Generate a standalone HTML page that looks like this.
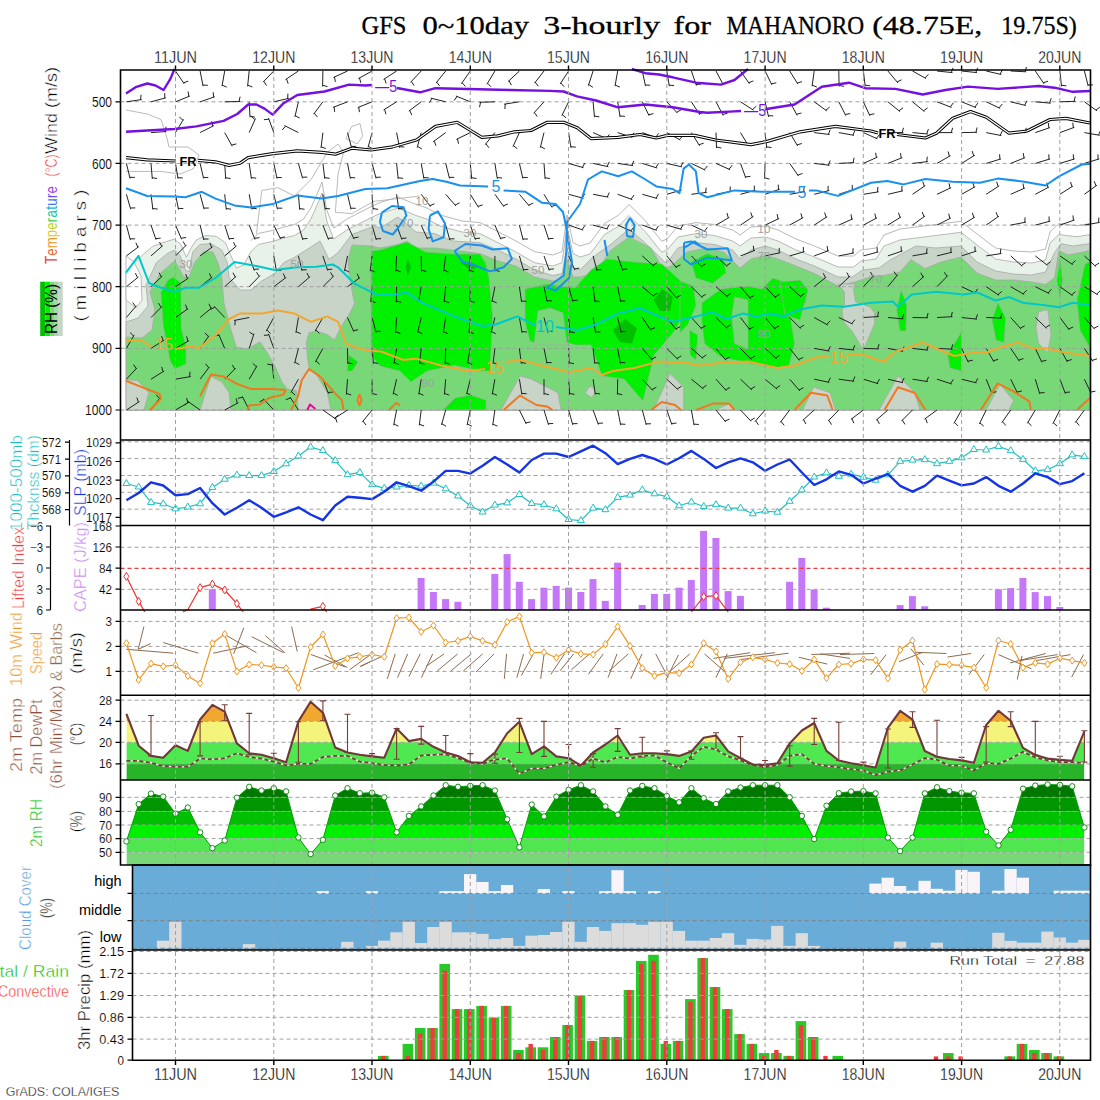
<!DOCTYPE html>
<html><head><meta charset="utf-8"><title>GFS meteogram</title>
<style>html,body{margin:0;padding:0;background:#fff;width:1100px;height:1100px;overflow:hidden}svg{display:block}</style>
</head><body>
<svg width="1100" height="1100" viewBox="0 0 1100 1100">
<rect x="0" y="0" width="1100" height="1100" fill="#fff"/>
<g>
<polygon points="126.4,410.0 126.0,272.0 134.5,263.0 143.6,254.0 152.7,246.4 165.5,241.8 174.5,239.1 180.9,244.5 186.4,257.3 190.9,248.2 196.4,240.0 205.5,235.5 216.4,236.4 225.5,242.7 230.9,255.5 236.4,268.0 243.6,265.0 250.9,251.8 258.2,244.5 270.9,241.8 283.6,238.2 294.5,235.5 303.6,230.0 310.9,219.1 318.0,203.0 322.0,193.0 326.8,221.0 333.6,239.0 347.0,230.0 374.5,216.0 380.0,213.6 398.0,208.0 416.0,215.5 427.0,219.0 440.0,226.0 462.0,232.0 480.0,233.6 498.0,242.7 516.0,252.0 534.5,262.7 552.7,266.0 562.0,262.7 567.0,226.0 573.0,253.6 580.0,257.0 590.0,254.0 604.5,234.5 618.2,226.4 629.1,215.5 645.4,231.8 661.8,252.3 667.0,250.0 678.0,237.0 696.0,233.6 714.5,235.5 732.7,241.0 740.0,246.0 751.0,238.0 765.5,237.0 778.0,241.0 796.0,250.0 814.5,257.0 838.0,267.0 853.6,267.0 861.0,261.0 876.0,259.0 884.0,246.0 900.0,240.0 916.0,238.0 961.0,232.3 977.0,245.0 995.5,259.0 1013.6,262.0 1031.8,263.0 1045.5,260.0 1050.0,243.0 1059.0,234.5 1077.0,236.8 1090.0,234.5 1090.0,410.0" fill="#e8f2e8" stroke="#a8a8a8" stroke-width="0.8" />
<polygon points="126.0,256.0 134.0,262.0 141.0,276.0 142.0,300.0 136.0,308.0 126.0,300.0" fill="#fff" stroke="#a8a8a8" stroke-width="0.8" />
<polygon points="126.4,410.0 126.0,322.0 138.0,318.0 148.0,306.0 146.0,285.0 156.4,262.7 167.3,253.6 174.5,250.0 180.0,255.5 185.5,270.0 189.0,271.8 192.7,251.8 200.0,244.5 210.9,243.6 221.8,250.0 227.3,262.7 229.0,277.3 240.0,290.0 250.9,290.0 261.8,280.9 274.5,273.6 283.6,262.7 294.5,257.3 309.0,248.2 320.0,241.0 329.0,259.5 338.0,252.7 351.8,234.5 374.5,226.0 380.0,228.0 398.0,217.0 416.0,232.0 434.5,233.6 452.7,241.0 480.0,242.7 498.0,250.0 516.0,259.0 534.5,270.0 552.7,275.5 562.0,273.6 567.0,248.0 573.0,268.0 580.0,270.0 592.7,257.3 610.0,245.0 629.0,229.0 645.0,242.7 664.5,261.8 667.0,262.7 678.0,248.0 696.0,242.7 714.5,244.5 732.7,250.0 740.0,259.0 751.0,250.0 765.5,246.0 778.0,250.0 796.0,259.0 814.5,266.0 838.0,277.0 852.0,277.0 862.7,270.0 879.0,268.0 890.0,260.0 916.0,246.0 936.0,248.0 961.0,246.0 977.0,262.0 995.5,271.0 1013.6,274.0 1031.8,275.0 1045.5,272.0 1054.5,252.7 1061.0,243.6 1072.7,246.0 1090.0,243.6 1090.0,410.0" fill="#c8d4c8" stroke="#a8a8a8" stroke-width="0.8" />
<polygon points="126.4,410.0 126.0,337.0 142.0,338.0 152.0,330.0 155.0,310.0 150.0,292.0 160.0,273.6 174.5,261.0 178.0,266.0 183.6,277.0 189.0,277.0 194.5,262.7 203.6,251.8 212.7,251.8 218.0,262.7 221.8,277.3 224.0,303.6 231.0,330.0 236.4,347.3 247.3,349.1 260.0,341.8 267.3,352.7 274.5,365.5 281.8,381.8 287.3,389.1 296.4,390.9 298.2,410.0 330.9,410.0 327.3,392.7 316.4,374.5 309.1,369.1 307.3,356.4 306.4,341.8 309.1,332.7 316.4,330.9 327.3,334.5 334.5,340.0 341.8,325.5 349.1,314.5 354.5,303.6 350.0,280.0 348.0,260.0 352.0,245.0 371.0,246.0 380.0,248.0 398.0,244.5 407.0,241.0 416.0,248.0 434.5,248.0 452.7,250.0 480.0,253.6 498.0,261.0 516.0,266.0 534.5,277.0 552.7,281.0 562.0,279.0 567.0,259.0 573.0,277.0 580.0,277.0 596.0,272.7 610.0,251.0 629.0,237.0 651.0,248.0 661.8,267.0 660.0,272.0 671.0,266.0 687.0,252.0 705.5,248.0 723.6,252.0 740.0,268.0 751.0,259.0 765.5,255.5 778.0,259.0 796.0,266.0 814.5,273.6 838.0,286.0 854.5,282.0 870.0,277.0 884.0,275.5 900.0,272.0 911.0,259.5 925.0,268.6 941.0,262.0 961.0,257.0 977.0,273.0 995.5,280.0 1013.6,280.0 1031.8,282.0 1045.5,284.5 1054.5,277.7 1059.0,250.5 1068.0,255.0 1090.0,250.5 1090.0,410.0" fill="#78d878" stroke="#a8a8a8" stroke-width="0.8" />
<polygon points="126.0,379.6 138.0,380.8 148.8,392.8 144.0,410.0 126.0,410.0" fill="#c8d4c8" stroke="#a8a8a8" stroke-width="0.8" />
<polygon points="200.0,410.0 205.5,392.7 210.9,376.4 221.8,381.8 229.1,392.7 230.9,410.0" fill="#c8d4c8" stroke="#a8a8a8" stroke-width="0.8" />
<polygon points="501.0,410.0 520.0,376.0 531.0,379.0 558.0,392.7 561.0,410.0" fill="#c8d4c8" stroke="#a8a8a8" stroke-width="0.8" />
<polygon points="585.0,393.0 590.0,386.0 596.0,390.0 592.0,398.0" fill="#c8d4c8" stroke="#a8a8a8" stroke-width="0.8" />
<polygon points="653.6,410.0 670.0,373.6 683.6,387.0 683.6,410.0" fill="#c8d4c8" stroke="#a8a8a8" stroke-width="0.8" />
<polygon points="838.0,284.0 854.5,284.0 853.6,290.0 855.5,302.0 862.7,304.5 870.0,307.0 874.5,312.7 874.5,323.6 865.5,345.5 862.0,348.0 852.0,331.0 843.6,322.0 842.0,311.0 844.5,303.6 844.5,292.0" fill="#c8d4c8" stroke="#a8a8a8" stroke-width="0.8" />
<polygon points="802.7,410.0 813.6,387.0 830.0,392.7 835.5,410.0" fill="#c8d4c8" stroke="#a8a8a8" stroke-width="0.8" />
<polygon points="879.0,410.0 898.0,376.0 914.5,392.0 920.0,410.0" fill="#c8d4c8" stroke="#a8a8a8" stroke-width="0.8" />
<polygon points="715.5,410.0 729.0,403.6 734.5,410.0" fill="#c8d4c8" stroke="#a8a8a8" stroke-width="0.8" />
<polygon points="1038.6,311.8 1047.7,309.5 1051.0,334.5 1047.7,352.7 1038.6,343.6 1036.0,327.7" fill="#c8d4c8" stroke="#a8a8a8" stroke-width="0.8" />
<polygon points="986.0,410.0 1000.0,384.5 1013.6,400.5 1009.0,410.0" fill="#c8d4c8" stroke="#a8a8a8" stroke-width="0.8" />
<polygon points="162.0,290.0 168.0,280.0 173.0,277.0 181.0,283.0 181.2,328.0 186.0,347.0 186.0,364.0 175.2,368.8 170.4,361.6 163.2,325.6 160.8,292.0" fill="#00f000" stroke="#a8a8a8" stroke-width="0.6" />
<polygon points="347.0,371.0 349.0,355.0 358.0,362.0 352.0,371.0" fill="#00f000" stroke="#a8a8a8" stroke-width="0.6" />
<polygon points="371.0,251.0 380.0,250.0 407.0,242.0 425.5,252.0 452.7,254.0 480.0,254.0 485.5,263.0 489.0,277.0 491.0,300.0 492.7,316.0 490.0,371.0 481.8,371.0 454.5,365.5 427.0,371.0 411.0,382.0 400.0,371.0 380.0,366.0 371.0,355.0" fill="#00f000" stroke="#a8a8a8" stroke-width="0.6" />
<polygon points="525.0,289.0 547.0,284.0 575.0,288.0 591.0,270.0 607.0,259.0 634.0,262.0 662.0,264.0 684.0,284.0 686.0,311.0 673.0,333.0 654.0,355.0 643.0,401.0 624.0,379.0 602.0,376.0 591.0,345.0 575.0,345.0 560.0,340.0 540.0,345.0 530.0,341.0 525.0,322.0" fill="#00f000" stroke="#a8a8a8" stroke-width="0.6" />
<polygon points="691.0,262.0 707.0,253.6 723.6,259.0 726.0,272.7 712.7,283.6 696.0,278.0" fill="#00f000" stroke="#a8a8a8" stroke-width="0.6" />
<polygon points="701.8,302.7 721.0,289.0 748.0,286.0 761.8,289.0 772.7,278.0 789.0,283.6 808.0,289.0 805.5,302.7 789.0,308.0 794.5,343.6 789.0,365.5 775.5,368.0 748.0,362.7 721.0,357.0 704.5,343.6 701.8,321.8" fill="#00f000" stroke="#a8a8a8" stroke-width="0.6" />
<polygon points="680.0,281.0 693.6,286.0 696.0,305.5 688.0,324.5 680.0,332.7" fill="#00f000" stroke="#a8a8a8" stroke-width="0.6" />
<polygon points="689.5,330.0 697.7,335.0 696.0,360.0 690.0,355.0" fill="#00f000" stroke="#a8a8a8" stroke-width="0.6" />
<polygon points="896.6,310.0 901.0,290.0 906.8,305.0 906.0,331.0 900.0,331.0" fill="#00f000" stroke="#a8a8a8" stroke-width="0.6" />
<polygon points="992.0,320.0 998.0,302.7 1005.7,318.0 1004.0,342.5 996.0,340.0" fill="#00f000" stroke="#a8a8a8" stroke-width="0.6" />
<polygon points="947.7,355.0 961.4,332.0 961.4,371.0 950.0,368.0" fill="#00f000" stroke="#a8a8a8" stroke-width="0.6" />
<polygon points="1056.8,280.0 1060.0,259.5 1062.5,280.0 1060.0,298.0" fill="#00f000" stroke="#a8a8a8" stroke-width="0.6" />
<polygon points="1077.0,300.0 1085.0,264.0 1090.0,262.0 1090.0,348.0 1080.0,330.0" fill="#00f000" stroke="#a8a8a8" stroke-width="0.6" />
<polygon points="780.0,282.0 800.0,280.0 808.0,290.0 800.0,320.0 785.0,315.0" fill="#00f000" stroke="#a8a8a8" stroke-width="0.6" />
<polygon points="534.0,345.0 538.0,311.0 550.0,308.0 563.0,313.0 567.0,345.0" fill="#78d878" stroke="#a8a8a8" stroke-width="0.6" />
<polygon points="734.5,297.0 748.0,300.0 748.0,349.0 734.5,343.6 731.8,316.0" fill="#78d878" stroke="#a8a8a8" stroke-width="0.6" />
<polygon points="443.0,410.0 455.0,398.0 470.0,395.0 486.0,400.0 486.0,410.0" fill="#00f000" stroke="#a8a8a8" stroke-width="0.6" />
<polygon points="653.6,300.0 662.0,289.0 672.7,297.0 670.0,311.0 660.0,311.0" fill="#00c000" stroke="none" stroke-width="0" />
<polygon points="612.7,330.0 625.0,319.0 637.0,328.0 632.0,343.6 620.0,342.0" fill="#00c000" stroke="none" stroke-width="0" />
<polygon points="460.0,262.0 470.0,262.0 479.0,266.0 470.0,270.0" fill="#00c000" stroke="none" stroke-width="0" />
<polygon points="405.5,267.0 408.0,259.0 411.0,267.0 408.0,275.5" fill="#00c000" stroke="none" stroke-width="0" />
<polyline points="126.0,110.0 147.3,114.0 161.0,119.5 166.4,136.0 169.0,147.0 188.0,147.0 199.0,155.0 193.6,168.6 180.0,174.0 161.0,171.4 126.0,171.4" fill="none" stroke="#a8a8a8" stroke-width="0.8" stroke-linejoin="round" />
<polyline points="346.0,138.6 351.8,126.4 360.0,123.6 362.7,136.0 357.3,144.0 346.0,138.6" fill="none" stroke="#a8a8a8" stroke-width="0.8" stroke-linejoin="round" />
<polyline points="256.4,234.0 261.8,190.4 278.0,187.7 294.5,196.0 311.0,179.5 327.3,152.3 338.0,144.0 343.6,152.3 338.0,174.0 335.4,212.3 351.8,213.6 373.6,201.4 420.0,196.0" fill="none" stroke="#a8a8a8" stroke-width="0.8" stroke-linejoin="round" />
<polyline points="250.9,240.8 258.2,233.5 270.9,230.8 283.6,227.2 294.5,224.5 303.6,219.0 310.9,208.1 318.0,192.0 322.0,182.0 326.8,210.0 333.6,228.0 347.0,219.0 374.5,205.0 380.0,202.6 398.0,197.0 416.0,204.5 427.0,208.0 440.0,215.0 462.0,221.0 480.0,222.6 498.0,231.7 516.0,241.0 534.5,251.7 552.7,255.0 562.0,251.7 567.0,215.0 573.0,242.6 580.0,246.0 590.0,243.0 604.5,223.5 618.2,215.4 629.1,204.5 645.4,220.8 661.8,241.3 667.0,239.0 678.0,226.0 696.0,222.6 714.5,224.5 732.7,230.0 740.0,235.0 751.0,227.0 765.5,226.0 778.0,230.0 796.0,239.0 814.5,246.0 838.0,256.0 853.6,256.0 861.0,250.0 876.0,248.0 884.0,235.0 900.0,229.0 916.0,227.0 961.0,221.3 977.0,234.0 995.5,248.0 1013.6,251.0 1031.8,252.0 1045.5,249.0 1050.0,232.0 1059.0,223.5 1077.0,225.8 1090.0,223.5" fill="none" stroke="#b0b0b0" stroke-width="0.9" stroke-linejoin="round" />
</g>
<line x1="120.5" y1="101.8" x2="1090.5" y2="101.8" stroke="#a0a0a0" stroke-width="1" stroke-dasharray="4,3"/>
<line x1="120.5" y1="163.4" x2="1090.5" y2="163.4" stroke="#a0a0a0" stroke-width="1" stroke-dasharray="4,3"/>
<line x1="120.5" y1="225.1" x2="1090.5" y2="225.1" stroke="#a0a0a0" stroke-width="1" stroke-dasharray="4,3"/>
<line x1="120.5" y1="286.7" x2="1090.5" y2="286.7" stroke="#a0a0a0" stroke-width="1" stroke-dasharray="4,3"/>
<line x1="120.5" y1="348.4" x2="1090.5" y2="348.4" stroke="#a0a0a0" stroke-width="1" stroke-dasharray="4,3"/>
<line x1="120.5" y1="410.0" x2="1090.5" y2="410.0" stroke="#a0a0a0" stroke-width="1" stroke-dasharray="4,3"/>
<path d="M175.5 71.0L184.2 83.8M183.5 82.8L188.2 81.2 M200.1 71.0L203.1 86.2M202.8 85.0L207.8 85.3 M224.7 71.0L222.0 86.2M222.2 85.1L226.7 87.1 M249.2 71.0L247.6 86.4M247.7 85.2L252.4 87.0 M273.8 71.0L263.0 82.1M263.9 81.3L266.5 85.5 M298.4 71.0L285.5 79.6M286.5 79.0L288.2 83.7 M322.9 71.0L322.6 86.5M322.7 85.3L327.5 86.6 M347.5 71.0L333.4 77.5M334.5 77.0L335.4 81.9 M372.1 71.0L358.5 78.5M359.5 77.9L360.8 82.8 M396.6 71.0L383.6 79.4M384.6 78.8L386.2 83.5 M421.2 71.0L410.6 82.3M411.4 81.4L414.1 85.7 M445.7 71.0L436.0 83.0M436.7 82.1L439.7 86.1 M470.3 71.0L461.4 83.7M462.1 82.7L465.4 86.5 M494.9 71.0L486.9 84.3M487.5 83.2L491.0 86.8 M519.4 71.0L508.1 81.6M509.0 80.7L511.4 85.1 M544.0 71.0L534.5 83.2M535.2 82.2L538.3 86.2 M568.6 71.0L560.1 84.0M560.8 83.0L564.2 86.7 M593.1 71.0L588.3 85.7M588.7 84.6L592.9 87.3 M617.7 71.0L615.0 86.2M615.2 85.1L619.8 87.1 M642.3 71.0L645.5 86.1M645.2 85.0L650.2 85.2 M666.8 71.0L669.3 86.3M669.1 85.1L674.1 85.6 M691.4 71.0L696.4 85.6M696.1 84.5L701.0 84.1 M716.0 71.0L723.2 84.7M722.7 83.6L727.5 82.4 M740.5 71.0L749.4 83.7M748.7 82.7L753.4 80.9 M765.1 71.0L771.9 84.9M771.4 83.8L776.3 82.8 M789.7 71.0L797.9 84.1M797.2 83.1L802.0 81.6 M814.2 71.0L812.1 86.3M812.2 85.1L816.9 87.1 M838.8 71.0L839.1 86.5M839.0 85.3L843.9 86.4 M863.4 71.0L865.2 86.4M865.1 85.2L870.1 85.8 M887.9 71.0L897.9 82.9M897.1 81.9L901.6 79.8 M912.5 71.0L926.0 78.5M925.0 77.9L928.4 74.3 M937.0 71.0L952.5 72.6M951.3 72.5L953.0 67.8 M961.6 71.0L977.0 72.6M975.8 72.5L977.6 67.8 M986.2 71.0L1001.3 74.5M1000.1 74.2L1002.4 69.8 M1010.7 71.0L1026.2 71.8M1025.0 71.7L1026.5 67.0 M1035.3 71.0L1044.0 83.8M1043.3 82.8L1048.0 81.2 M1059.9 71.0L1061.5 86.4M1061.4 85.2L1066.3 85.9 M1084.4 71.0L1088.2 86.0M1087.9 84.9L1092.9 84.9 M126.4 101.8L141.7 99.6M140.6 99.8L141.1 94.8 M151.0 101.8L165.9 97.8M164.8 98.1L164.7 93.1 M175.5 101.8L189.9 96.0M188.8 96.4L188.1 91.5 M200.1 101.8L214.8 96.8M213.6 97.1L213.2 92.2 M224.7 101.8L240.2 101.5M239.0 101.6L240.1 96.7 M249.2 101.8L250.0 117.3M250.0 116.1L254.9 117.1 M273.8 101.8L288.9 98.3M287.7 98.6L287.9 93.6 M298.4 101.8L294.9 116.9M295.1 115.7L299.6 118.0 M322.9 101.8L313.6 114.2M314.3 113.2L317.4 117.1 M347.5 101.8L333.0 107.4M334.1 106.9L334.7 111.9 M372.1 101.8L357.7 107.6M358.8 107.2L359.4 112.1 M396.6 101.8L383.5 110.0M384.5 109.4L386.0 114.2 M421.2 101.8L408.8 111.1M409.8 110.4L411.7 115.0 M445.7 101.8L430.7 98.1M431.9 98.3L429.5 102.7 M470.3 101.8L455.9 96.0M457.1 96.4L454.1 100.5 M494.9 101.8L479.4 102.3M480.6 102.3L479.5 107.2 M519.4 101.8L504.1 104.2M505.3 104.0L504.8 109.0 M544.0 101.8L533.6 113.3M534.4 112.4L537.2 116.6 M568.6 101.8L561.8 115.7M562.3 114.7L566.1 117.9 M593.1 101.8L594.5 117.2M594.4 116.0L599.3 116.9 M617.7 101.8L620.1 117.1M619.9 115.9L624.9 116.4 M642.3 101.8L649.1 115.7M648.5 114.7L653.4 113.7 M666.8 101.8L677.4 113.1M676.6 112.3L681.0 109.9 M691.4 101.8L699.8 114.8M699.2 113.8L703.9 112.2 M716.0 101.8L723.2 115.5M722.7 114.4L727.5 113.3 M740.5 101.8L753.5 110.2M752.5 109.6L756.2 106.2 M765.1 101.8L768.6 116.9M768.3 115.7L773.3 115.9 M789.7 101.8L797.2 115.4M796.6 114.3L801.4 113.0 M814.2 101.8L826.8 110.9M825.8 110.2L829.7 107.0 M838.8 101.8L845.8 115.6M845.3 114.5L850.2 113.5 M863.4 101.8L869.9 115.8M869.4 114.8L874.3 113.8 M887.9 101.8L900.0 111.6M899.0 110.8L903.1 107.8 M912.5 101.8L924.5 111.6M923.6 110.8L927.6 107.8 M937.0 101.8L951.5 107.4M950.4 106.9L953.3 102.8 M961.6 101.8L976.0 107.6M974.9 107.2L977.8 103.1 M986.2 101.8L1000.2 108.4M999.1 107.8L1002.3 104.0 M1010.7 101.8L1025.8 105.5M1024.6 105.3L1027.0 100.9 M1035.3 101.8L1050.7 103.2M1049.6 103.0L1051.2 98.3 M1059.9 101.8L1075.4 101.3M1074.2 101.3L1075.2 96.4 M1084.4 101.8L1097.0 110.9M1096.0 110.2L1099.9 107.0 M151.0 132.6L166.4 131.5M165.2 131.6L166.1 126.7 M175.5 132.6L183.5 119.3M182.9 120.4L179.4 116.8 M200.1 132.6L213.9 125.6M212.8 126.1L211.7 121.2 M224.7 132.6L232.2 146.2M231.6 145.1L236.4 143.9 M249.2 132.6L255.5 118.5M255.0 119.6L251.1 116.4 M273.8 132.6L268.5 118.1M268.9 119.2L263.9 119.7 M298.4 132.6L284.5 125.6M285.6 126.1L282.3 129.9 M322.9 132.6L321.0 148.0M321.2 146.8L325.8 148.6 M347.5 132.6L351.5 147.6M351.2 146.4L356.2 146.4 M372.1 132.6L368.0 147.6M368.3 146.4L372.7 148.9 M396.6 132.6L399.6 147.8M399.3 146.7L404.3 147.0 M421.2 132.6L417.2 147.6M417.5 146.4L421.8 148.9 M445.7 132.6L433.2 141.7M434.2 141.0L436.0 145.7 M470.3 132.6L456.4 139.4M457.5 138.9L458.5 143.8 M494.9 132.6L485.1 144.7M485.9 143.7L488.9 147.8 M519.4 132.6L512.9 146.7M513.4 145.6L517.3 148.8 M544.0 132.6L540.3 147.7M540.5 146.5L544.9 148.9 M568.6 132.6L571.0 147.9M570.8 146.7L575.8 147.2 M593.1 132.6L607.3 138.9M606.2 138.4L609.3 134.5 M617.7 132.6L632.4 137.4M631.3 137.0L634.0 132.8 M642.3 132.6L656.8 137.9M655.7 137.5L658.5 133.4 M666.8 132.6L680.4 140.1M679.3 139.6L682.8 135.9 M691.4 132.6L699.6 145.8M699.0 144.7L703.7 143.2 M716.0 132.6L716.5 148.1M716.5 146.9L721.3 148.0 M740.5 132.6L748.5 145.9M747.9 144.9L752.7 143.5 M765.1 132.6L766.7 148.0M766.6 146.8L771.5 147.6 M789.7 132.6L797.6 145.9M797.0 144.9L801.8 143.5 M814.2 132.6L829.6 134.5M828.4 134.4L830.2 129.7 M838.8 132.6L854.0 135.3M852.9 135.1L854.9 130.5 M863.4 132.6L877.5 138.9M876.4 138.4L879.5 134.5 M887.9 132.6L903.4 132.6M902.2 132.6L903.5 127.8 M912.5 132.6L927.9 134.0M926.7 133.9L928.4 129.1 M937.0 132.6L952.5 132.6M951.3 132.6L952.6 127.8 M961.6 132.6L977.1 132.3M975.9 132.4L977.1 127.5 M986.2 132.6L1001.4 135.6M1000.2 135.3L1002.4 130.8 M1010.7 132.6L1026.2 132.6M1025.0 132.6L1026.3 127.8 M1035.3 132.6L1050.0 127.6M1048.8 128.0L1048.4 123.0 M1059.9 132.6L1074.4 127.3M1073.3 127.7L1072.8 122.7 M1084.4 132.6L1099.7 135.3M1098.5 135.1L1100.6 130.5 M126.4 163.4L130.1 178.5M129.9 177.3L134.9 177.4 M151.0 163.4L152.3 178.9M152.2 177.7L157.2 178.5 M175.5 163.4L178.0 178.7M177.8 177.6L182.8 178.0 M200.1 163.4L203.6 178.5M203.3 177.4L208.3 177.5 M224.7 163.4L225.7 178.9M225.7 177.7L230.6 178.6 M249.2 163.4L251.4 178.8M251.2 177.6L256.2 178.2 M273.8 163.4L277.0 178.6M276.8 177.4L281.8 177.6 M298.4 163.4L302.6 178.3M302.3 177.2L307.3 177.1 M322.9 163.4L324.8 178.8M324.7 177.6L329.6 178.3 M347.5 163.4L350.4 178.7M350.2 177.5L355.2 177.8 M372.1 163.4L376.1 178.4M375.8 177.3L380.8 177.2 M396.6 163.4L398.2 178.9M398.1 177.7L403.1 178.4 M421.2 163.4L423.9 178.7M423.7 177.5L428.7 177.9 M445.7 163.4L449.5 178.5M449.2 177.3L454.2 177.4 M470.3 163.4L471.7 178.9M471.6 177.7L476.5 178.5 M494.9 163.4L497.3 178.7M497.1 177.6L502.1 178.0 M519.4 163.4L522.9 178.5M522.7 177.4L527.7 177.5 M544.0 163.4L545.1 178.9M545.0 177.7L549.9 178.6 M568.6 163.4L583.5 167.7M582.3 167.4L584.9 163.1 M593.1 163.4L608.3 166.7M607.1 166.4L609.4 161.9 M617.7 163.4L633.0 165.6M631.9 165.4L633.8 160.8 M642.3 163.4L657.1 168.0M655.9 167.6L658.6 163.3 M666.8 163.4L681.9 166.9M680.8 166.7L683.1 162.2 M691.4 163.4L705.3 170.2M704.2 169.7L707.5 165.9 M716.0 163.4L730.1 169.7M729.0 169.3L732.1 165.3 M740.5 163.4L745.8 178.0M745.4 176.9L750.4 176.4 M765.1 163.4L764.5 178.9M764.6 177.7L769.4 179.1 M789.7 163.4L798.5 176.1M797.9 175.2L802.5 173.4 M814.2 163.4L829.6 165.3M828.4 165.2L830.2 160.5 M838.8 163.4L854.3 162.6M853.1 162.7L854.1 157.8 M863.4 163.4L877.5 157.1M876.4 157.6L875.6 152.7 M887.9 163.4L902.3 157.6M901.2 158.1L900.5 153.1 M912.5 163.4L927.9 161.6M926.7 161.7L927.3 156.7 M937.0 163.4L950.5 155.7M949.4 156.3L948.1 151.5 M961.6 163.4L974.8 155.2M973.7 155.9L972.2 151.1 M986.2 163.4L1001.0 158.9M999.9 159.3L999.6 154.3 M1010.7 163.4L1025.1 157.6M1024.0 158.1L1023.3 153.1 M1035.3 163.4L1050.1 158.9M1049.0 159.3L1048.8 154.3 M1059.9 163.4L1074.7 158.9M1073.5 159.3L1073.3 154.3 M1084.4 163.4L1099.3 158.9M1098.1 159.3L1097.9 154.3 M126.4 194.3L130.7 209.2M130.3 208.0L135.3 207.9 M151.0 194.3L152.9 209.6M152.7 208.5L157.7 209.1 M175.5 194.3L178.5 209.5M178.3 208.3L183.3 208.6 M200.1 194.3L204.1 209.2M203.8 208.1L208.8 208.0 M224.7 194.3L226.3 209.7M226.2 208.5L231.1 209.2 M249.2 194.3L251.9 209.5M251.7 208.3L256.7 208.7 M273.8 194.3L277.5 209.3M277.2 208.1L282.3 208.2 M298.4 194.3L299.7 209.7M299.6 208.5L304.5 209.3 M322.9 194.3L325.3 209.6M325.2 208.4L330.1 208.9 M347.5 194.3L351.0 209.4M350.7 208.2L355.7 208.3 M372.1 194.3L373.1 209.7M373.0 208.5L378.0 209.4 M396.6 194.3L398.8 209.6M398.6 208.4L403.6 209.0 M421.2 194.3L430.5 206.6M429.8 205.7L434.4 203.8 M445.7 194.3L455.9 206.0M455.1 205.1L459.6 202.8 M470.3 194.3L478.5 207.4M477.9 206.4L482.7 204.9 M494.9 194.3L504.0 206.8M503.3 205.8L507.9 204.0 M519.4 194.3L529.4 206.1M528.6 205.2L533.2 203.1 M544.0 194.3L552.0 207.5M551.4 206.5L556.2 205.1 M568.6 194.3L583.5 198.3M582.4 198.0L584.8 193.6 M593.1 194.3L608.4 197.2M607.2 197.0L609.3 192.5 M617.7 194.3L632.3 199.6M631.1 199.2L634.0 195.0 M642.3 194.3L657.2 198.5M656.0 198.2L658.5 193.9 M666.8 194.3L681.7 190.0M680.6 190.3L680.4 185.3 M691.4 194.3L706.8 192.4M705.6 192.5L706.2 187.6 M716.0 194.3L731.2 191.3M730.0 191.5L730.3 186.5 M740.5 194.3L755.5 190.2M754.3 190.6L754.3 185.6 M765.1 194.3L779.7 189.2M778.6 189.6L778.2 184.6 M789.7 194.3L804.9 191.6M803.7 191.8L804.1 186.8 M814.2 194.3L829.3 190.5M828.1 190.8L828.1 185.8 M838.8 194.3L853.5 189.5M852.4 189.8L852.1 184.8 M863.4 194.3L878.7 191.8M877.5 192.0L877.9 187.0 M887.9 194.3L903.0 190.8M901.8 191.0L902.0 186.0 M912.5 194.3L925.3 185.6M924.3 186.3L922.7 181.5 M937.0 194.3L951.1 187.7M950.0 188.2L949.1 183.3 M961.6 194.3L975.2 186.7M974.1 187.3L972.9 182.5 M986.2 194.3L999.2 185.8M998.2 186.5L996.6 181.7 M1010.7 194.3L1024.9 188.0M1023.8 188.4L1023.0 183.5 M1035.3 194.3L1049.0 187.0M1047.9 187.5L1046.8 182.7 M1059.9 194.3L1073.0 186.0M1072.0 186.7L1070.5 181.9 M1084.4 194.3L1097.0 185.1M1096.0 185.9L1094.2 181.2 M126.4 225.1L130.4 240.1M130.1 238.9L135.1 238.8 M151.0 225.1L156.0 239.7M155.6 238.6L160.6 238.2 M175.5 225.1L181.6 239.3M181.1 238.2L186.1 237.5 M200.1 225.1L203.8 240.1M203.6 239.0L208.6 239.0 M224.7 225.1L229.4 239.8M229.1 238.7L234.1 238.4 M249.2 225.1L255.0 239.5M254.6 238.3L259.5 237.7 M273.8 225.1L280.6 239.0M280.1 237.9L285.0 236.9 M298.4 225.1L302.9 239.9M302.5 238.8L307.5 238.5 M322.9 225.1L328.5 239.6M328.0 238.4L333.0 237.9 M347.5 225.1L354.0 239.1M353.5 238.0L358.5 237.1 M372.1 225.1L376.3 240.0M376.0 238.8L381.0 238.7 M396.6 225.1L401.9 239.6M401.5 238.5L406.5 238.0 M421.2 225.1L427.5 239.2M427.0 238.1L431.9 237.3 M445.7 225.1L449.8 240.1M449.4 238.9L454.5 238.8 M470.3 225.1L475.4 239.7M475.0 238.6L480.0 238.2 M494.9 225.1L500.9 239.3M500.5 238.2L505.4 237.5 M519.4 225.1L523.2 240.1M522.9 239.0L527.9 239.0 M544.0 225.1L548.8 239.8M548.4 238.7L553.4 238.4 M568.6 225.1L583.2 230.1M582.1 229.7L584.9 225.6 M593.1 225.1L608.1 229.1M606.9 228.8L609.4 224.4 M617.7 225.1L631.9 231.4M630.8 230.9L633.9 227.0 M642.3 225.1L656.8 230.4M655.7 230.0L658.5 225.8 M666.8 225.1L681.7 229.4M680.6 229.0L683.1 224.7 M691.4 225.1L705.4 231.6M704.4 231.1L707.5 227.3 M716.0 225.1L729.4 217.3M728.3 217.9L727.0 213.1 M740.5 225.1L753.4 216.4M752.4 217.1L750.7 212.4 M765.1 225.1L779.1 218.5M778.1 219.0L777.1 214.1 M789.7 225.1L803.2 217.6M802.2 218.1L800.9 213.3 M814.2 225.1L827.2 216.6M826.2 217.3L824.6 212.5 M838.8 225.1L852.9 218.8M851.8 219.3L851.0 214.3 M863.4 225.1L877.0 217.8M876.0 218.4L874.8 213.5 M887.9 225.1L901.1 216.9M900.0 217.5L898.5 212.7 M912.5 225.1L925.0 216.0M924.0 216.7L922.2 212.0 M937.0 225.1L950.9 218.0M949.8 218.6L948.7 213.7 M961.6 225.1L974.9 217.1M973.9 217.7L972.4 212.9 M986.2 225.1L998.9 216.2M997.9 216.9L996.1 212.2 M1010.7 225.1L1026.0 222.1M1024.8 222.4L1025.1 217.4 M1035.3 225.1L1050.3 221.1M1049.1 221.4L1049.1 216.4 M1059.9 225.1L1074.5 220.0M1073.4 220.4L1073.0 215.4 M1084.4 225.1L1099.7 222.4M1098.5 222.6L1098.9 217.6 M126.4 255.9L138.8 246.6M137.8 247.3L135.9 242.7 M151.0 255.9L162.7 245.7M161.8 246.5L159.5 242.0 M175.5 255.9L186.5 244.9M185.6 245.8L183.1 241.5 M200.1 255.9L212.6 246.8M211.7 247.5L209.8 242.8 M224.7 255.9L236.5 245.9M235.6 246.7L233.5 242.2 M249.2 255.9L254.3 270.6M253.9 269.4L258.9 269.0 M273.8 255.9L276.5 271.2M276.3 270.0L281.3 270.4 M298.4 255.9L302.1 270.9M301.8 269.8L306.8 269.8 M322.9 255.9L327.7 270.6M327.3 269.5L332.3 269.2 M347.5 255.9L344.5 271.1M344.8 269.9L349.3 272.1 M372.1 255.9L370.2 271.3M370.3 270.1L375.0 271.9 M396.6 255.9L395.8 271.4M395.9 270.2L400.6 271.7 M421.2 255.9L421.5 271.4M421.4 270.2L426.3 271.4 M445.7 255.9L443.6 271.2M443.8 270.1L448.4 272.0 M470.3 255.9L469.2 271.4M469.3 270.2L474.1 271.8 M494.9 255.9L494.9 271.4M494.9 270.2L499.7 271.4 M519.4 255.9L523.7 270.8M523.4 269.6L528.4 269.5 M544.0 255.9L549.3 270.5M548.9 269.3L553.9 268.9 M568.6 255.9L574.9 270.1M574.4 269.0L579.3 268.1 M593.1 255.9L597.1 270.9M596.8 269.7L601.8 269.7 M617.7 255.9L622.7 270.6M622.4 269.4L627.3 269.0 M642.3 255.9L653.8 266.3M652.9 265.5L657.1 262.7 M666.8 255.9L676.6 267.9M675.8 267.0L680.4 264.9 M691.4 255.9L702.0 267.2M701.1 266.4L705.5 264.0 M716.0 255.9L727.3 266.5M726.4 265.7L730.6 263.0 M740.5 255.9L755.0 250.3M753.9 250.8L753.3 245.8 M765.1 255.9L780.3 252.7M779.1 252.9L779.3 247.9 M789.7 255.9L804.6 251.6M803.4 252.0L803.3 247.0 M814.2 255.9L828.8 250.6M827.7 251.0L827.2 246.0 M838.8 255.9L854.0 252.9M852.8 253.2L853.1 248.2 M863.4 255.9L878.3 251.9M877.2 252.2L877.1 247.2 M887.9 255.9L902.6 250.9M901.4 251.2L901.0 246.3 M912.5 255.9L927.7 253.2M926.6 253.4L927.0 248.4 M937.0 255.9L952.1 252.2M950.9 252.4L951.0 247.4 M961.6 255.9L976.4 251.1M975.2 251.5L974.9 246.5 M986.2 255.9L1001.5 253.5M1000.3 253.7L1000.8 248.7 M1010.7 255.9L1022.3 266.3M1021.4 265.5L1025.5 262.7 M1035.3 255.9L1047.5 265.4M1046.6 264.7L1050.5 261.7 M1059.9 255.9L1072.7 264.6M1071.7 263.9L1075.5 260.6 M1084.4 255.9L1095.8 266.5M1094.9 265.7L1099.1 263.0 M126.4 286.7L138.4 277.0M137.5 277.7L135.4 273.2 M151.0 286.7L162.3 276.1M161.4 277.0L159.0 272.6 M175.5 286.7L188.4 278.1M187.4 278.7L185.7 274.0 M200.1 286.7L212.3 277.2M211.4 277.9L209.4 273.3 M224.7 286.7L236.2 276.3M235.3 277.2L233.0 272.7 M249.2 286.7L260.0 275.6M259.2 276.4L256.5 272.2 M273.8 286.7L286.2 277.4M285.2 278.1L283.3 273.5 M298.4 286.7L310.1 276.6M309.1 277.3L306.9 272.9 M322.9 286.7L333.9 275.8M333.0 276.6L330.5 272.3 M347.5 286.7L360.0 277.6M359.1 278.3L357.2 273.7 M372.1 286.7L370.7 302.2M370.8 301.0L375.5 302.6 M396.6 286.7L396.3 302.2M396.4 301.0L401.2 302.4 M421.2 286.7L418.5 302.0M418.7 300.8L423.3 302.9 M445.7 286.7L444.1 302.1M444.3 300.9L448.9 302.7 M470.3 286.7L469.8 302.2M469.8 301.0L474.6 302.4 M494.9 286.7L491.9 301.9M492.1 300.8L496.7 302.9 M519.4 286.7L521.6 302.1M521.4 300.9L526.4 301.4 M544.0 286.7L547.2 301.9M547.0 300.7L552.0 300.9 M568.6 286.7L572.8 301.6M572.5 300.5L577.5 300.3 M593.1 286.7L595.0 302.1M594.9 300.9L599.8 301.6 M617.7 286.7L620.7 301.9M620.4 300.8L625.4 301.1 M642.3 286.7L654.1 296.7M653.2 295.9L657.3 293.0 M666.8 286.7L677.0 298.4M676.2 297.5L680.7 295.3 M691.4 286.7L702.4 297.7M701.5 296.8L705.8 294.3 M716.0 286.7L727.7 296.9M726.8 296.1L730.9 293.3 M740.5 286.7L750.5 298.6M749.7 297.7L754.2 295.5 M765.1 286.7L775.9 297.9M775.0 297.0L779.4 294.5 M789.7 286.7L801.2 297.1M800.3 296.3L804.5 293.5 M814.2 286.7L826.3 277.0M825.3 277.7L823.3 273.2 M838.8 286.7L850.1 276.1M849.2 277.0L846.8 272.6 M863.4 286.7L873.9 275.4M873.1 276.3L870.4 272.0 M887.9 286.7L897.7 274.7M896.9 275.6L893.9 271.6 M912.5 286.7L924.0 276.3M923.1 277.2L920.8 272.7 M937.0 286.7L947.8 275.6M947.0 276.4L944.4 272.2 M961.6 286.7L975.7 293.3M974.6 292.8L977.8 288.9 M986.2 286.7L999.0 295.4M998.0 294.7L1001.8 291.4 M1010.7 286.7L1024.2 294.5M1023.1 293.9L1026.6 290.3 M1035.3 286.7L1049.2 293.5M1048.2 293.0L1051.4 289.2 M1059.9 286.7L1072.6 295.6M1071.6 294.9L1075.4 291.7 M1084.4 286.7L1097.7 294.7M1096.7 294.1L1100.3 290.6 M126.4 317.5L136.4 305.7M135.6 306.6L132.7 302.5 M151.0 317.5L161.9 306.6M161.1 307.4L158.5 303.1 M175.5 317.5L188.2 308.6M187.2 309.3L185.5 304.6 M200.1 317.5L212.0 307.6M211.0 308.3L208.9 303.8 M224.7 317.5L214.1 306.2M214.9 307.1L210.5 309.5 M249.2 317.5L234.0 320.5M235.2 320.3L234.9 325.3 M273.8 317.5L266.3 331.1M266.9 330.0L270.5 333.5 M298.4 317.5L295.9 332.8M296.1 331.7L300.7 333.7 M322.9 317.5L315.2 331.0M315.8 329.9L319.3 333.4 M347.5 317.5L353.8 331.7M353.3 330.6L358.2 329.8 M372.1 317.5L376.1 332.5M375.8 331.4L380.8 331.3 M396.6 317.5L395.5 333.0M395.6 331.8L400.4 333.4 M421.2 317.5L417.7 332.6M418.0 331.5L422.4 333.8 M445.7 317.5L443.3 332.8M443.5 331.7L448.1 333.7 M470.3 317.5L469.0 333.0M469.1 331.8L473.8 333.5 M494.9 317.5L491.1 332.6M491.4 331.4L495.8 333.8 M519.4 317.5L522.1 332.8M521.9 331.6L526.9 332.0 M544.0 317.5L547.8 332.6M547.5 331.4L552.5 331.5 M568.6 317.5L569.9 333.0M569.8 331.8L574.8 332.6 M593.1 317.5L595.6 332.8M595.4 331.7L600.4 332.1 M617.7 317.5L621.2 332.6M620.9 331.5L625.9 331.6 M642.3 317.5L650.9 330.4M650.3 329.4L655.0 327.7 M666.8 317.5L676.4 329.8M675.6 328.8L680.2 326.8 M691.4 317.5L701.8 329.1M701.0 328.2L705.4 325.9 M716.0 317.5L727.1 328.3M726.2 327.5L730.5 324.9 M740.5 317.5L749.9 329.9M749.1 329.0L753.8 327.0 M765.1 317.5L775.3 329.2M774.5 328.3L779.0 326.1 M789.7 317.5L800.6 328.5M799.8 327.7L804.1 325.1 M814.2 317.5L827.8 325.1M826.7 324.5L830.2 320.8 M838.8 317.5L852.8 324.1M851.7 323.6L854.9 319.7 M863.4 317.5L878.8 316.5M877.6 316.5L878.5 311.6 M887.9 317.5L903.4 318.9M902.2 318.8L903.8 314.1 M912.5 317.5L928.0 317.8M926.8 317.8L928.1 313.0 M937.0 317.5L952.5 316.7M951.3 316.8L952.3 311.9 M961.6 317.5L977.0 319.2M975.8 319.0L977.6 314.3 M986.2 317.5L1001.7 318.1M1000.5 318.0L1001.9 313.2 M1010.7 317.5L1021.1 329.1M1020.3 328.2L1024.7 325.9 M1035.3 317.5L1046.5 328.3M1045.6 327.5L1049.9 324.9 M1059.9 317.5L1069.2 329.9M1068.5 329.0L1073.1 327.0 M1084.4 317.5L1094.6 329.2M1093.8 328.3L1098.3 326.1 M126.4 348.4L134.2 334.9M133.6 336.0L130.0 332.5 M151.0 348.4L164.1 340.1M163.1 340.8L161.6 336.0 M175.5 348.4L189.0 340.6M187.9 341.2L186.6 336.4 M200.1 348.4L209.0 335.7M208.3 336.6L205.0 332.8 M224.7 348.4L218.6 334.1M219.1 335.2L214.1 335.9 M249.2 348.4L254.0 333.6M253.6 334.8L249.4 332.1 M273.8 348.4L268.5 333.8M268.9 334.9L263.9 335.4 M298.4 348.4L294.6 363.4M294.9 362.2L299.3 364.6 M322.9 348.4L315.4 361.9M316.0 360.9L319.6 364.3 M347.5 348.4L347.8 363.9M347.7 362.7L352.6 363.8 M372.1 348.4L373.4 363.8M373.3 362.6L378.2 363.4 M396.6 348.4L393.9 363.6M394.1 362.4L398.7 364.5 M421.2 348.4L419.6 363.8M419.7 362.6L424.4 364.3 M445.7 348.4L445.2 363.9M445.2 362.7L450.0 364.1 M470.3 348.4L467.4 363.6M467.6 362.4L472.1 364.5 M494.9 348.4L493.0 363.7M493.1 362.6L497.8 364.4 M519.4 348.4L521.3 363.7M521.2 362.6L526.1 363.2 M544.0 348.4L547.0 363.6M546.7 362.4L551.7 362.7 M568.6 348.4L569.1 363.9M569.1 362.7L574.0 363.7 M593.1 348.4L594.8 363.8M594.6 362.6L599.6 363.3 M617.7 348.4L620.4 363.6M620.2 362.4L625.2 362.8 M642.3 348.4L652.4 360.1M651.6 359.2L656.1 356.9 M666.8 348.4L677.8 359.3M676.9 358.5L681.3 355.9 M691.4 348.4L703.1 358.5M702.2 357.7L706.3 354.9 M716.0 348.4L725.9 360.2M725.2 359.3L729.7 357.2 M740.5 348.4L751.3 359.5M750.5 358.6L754.8 356.2 M765.1 348.4L776.6 358.7M775.7 357.9L779.9 355.2 M789.7 348.4L799.4 360.4M798.7 359.5L803.2 357.4 M814.2 348.4L829.5 351.1M828.3 350.8L830.4 346.3 M838.8 348.4L854.2 350.0M853.0 349.9L854.8 345.2 M863.4 348.4L878.8 348.9M877.6 348.9L879.1 344.1 M887.9 348.4L903.1 351.3M902.0 351.1L904.1 346.6 M912.5 348.4L927.9 350.2M926.7 350.1L928.5 345.4 M937.0 348.4L952.5 349.2M951.3 349.1L952.8 344.3 M961.6 348.4L968.4 362.3M967.9 361.2L972.8 360.2 M986.2 348.4L993.9 361.8M993.3 360.7L998.2 359.4 M1010.7 348.4L1019.4 361.2M1018.7 360.2L1023.5 358.5 M1035.3 348.4L1041.9 362.4M1041.3 361.3L1046.3 360.4 M1059.9 348.4L1067.4 361.9M1066.8 360.9L1071.7 359.6 M1084.4 348.4L1092.9 361.4M1092.2 360.4L1097.0 358.8 M126.4 379.2L137.0 367.8M136.2 368.7L133.5 364.5 M151.0 379.2L164.1 371.0M163.1 371.6L161.6 366.8 M175.5 379.2L190.8 376.5M189.6 376.7L190.0 371.7 M200.1 379.2L209.4 366.8M208.7 367.8L205.6 363.8 M224.7 379.2L235.6 368.2M234.8 369.1L232.2 364.8 M249.2 379.2L257.0 365.8M256.4 366.8L252.8 363.3 M273.8 379.2L272.2 363.8M272.3 365.0L267.3 364.2 M298.4 379.2L290.8 392.7M291.4 391.7L295.1 395.1 M322.9 379.2L328.5 393.7M328.0 392.5L333.0 392.0 M347.5 379.2L346.4 394.6M346.5 393.4L351.2 395.0 M372.1 379.2L372.1 394.7M372.1 393.5L376.9 394.7 M396.6 379.2L393.1 394.3M393.4 393.1L397.8 395.4 M421.2 379.2L418.8 394.5M418.9 393.3L423.5 395.3 M445.7 379.2L444.4 394.6M444.5 393.4L449.2 395.1 M470.3 379.2L466.6 394.2M466.9 393.1L471.3 395.4 M494.9 379.2L492.2 394.4M492.4 393.3L497.0 395.3 M519.4 379.2L521.9 394.5M521.7 393.3L526.7 393.8 M544.0 379.2L544.0 394.7M544.0 393.5L548.9 394.7 M568.6 379.2L569.7 394.6M569.6 393.4L574.5 394.4 M593.1 379.2L595.3 394.5M595.1 393.3L600.1 393.9 M617.7 379.2L617.4 394.7M617.5 393.5L622.3 394.8 M642.3 379.2L652.8 390.5M652.0 389.6L656.4 387.2 M666.8 379.2L678.2 389.8M677.3 388.9L681.5 386.2 M691.4 379.2L703.4 388.9M702.5 388.2L706.5 385.2 M716.0 379.2L726.3 390.7M725.5 389.8L730.0 387.5 M740.5 379.2L751.7 389.9M750.8 389.1L755.1 386.5 M765.1 379.2L777.0 389.1M776.0 388.4L780.1 385.5 M789.7 379.2L799.8 390.9M799.0 390.0L803.5 387.7 M814.2 379.2L829.4 382.4M828.2 382.2L830.4 377.7 M838.8 379.2L854.1 381.3M852.9 381.2L854.9 376.5 M863.4 379.2L878.2 383.7M877.0 383.4L879.6 379.1 M887.9 379.2L903.0 382.7M901.8 382.4L904.2 378.0 M912.5 379.2L927.8 381.6M926.6 381.4L928.6 376.8 M937.0 379.2L951.8 384.0M950.6 383.6L953.3 379.4 M961.6 379.2L976.6 382.9M975.5 382.6L977.9 378.2 M986.2 379.2L992.0 393.6M991.5 392.4L996.5 391.8 M1010.7 379.2L1017.5 393.1M1017.0 392.0L1021.9 391.0 M1035.3 379.2L1039.8 394.0M1039.5 392.9L1044.5 392.6 M1059.9 379.2L1065.4 393.7M1065.0 392.5L1070.0 392.0 M1084.4 379.2L1091.0 393.2M1090.5 392.1L1095.4 391.2 M126.4 410.0L139.4 401.6M138.4 402.2L136.8 397.5 M151.0 410.0L160.1 397.5M159.4 398.4L156.2 394.6 M175.5 410.0L189.0 402.2M187.9 402.9L186.6 398.0 M200.1 410.0L187.4 401.1M188.4 401.8L184.6 405.1 M224.7 410.0L238.3 402.7M237.3 403.3L236.1 398.4 M249.2 410.0L242.2 396.2M242.7 397.3L237.8 398.3 M273.8 410.0L263.2 398.7M264.0 399.5L259.6 401.9 M298.4 410.0L289.9 397.0M290.6 398.0L285.8 399.6 M322.9 410.0L335.6 418.9M334.6 418.2L338.4 414.9 M347.5 410.0L334.5 418.4M335.5 417.8L337.1 422.5 M372.1 410.0L362.3 422.0M363.1 421.1L366.0 425.1 M396.6 410.0L393.7 425.2M393.9 424.0L398.4 426.2 M421.2 410.0L419.3 425.4M419.4 424.2L424.1 426.0 M445.7 410.0L441.5 424.9M441.8 423.7L446.1 426.3 M470.3 410.0L467.1 425.2M467.3 424.0L471.8 426.2 M494.9 410.0L492.7 425.3M492.9 424.2L497.5 426.1 M519.4 410.0L526.2 423.9M525.7 422.9L530.6 421.9 M544.0 410.0L548.5 424.8M548.2 423.7L553.2 423.5 M568.6 410.0L572.8 424.9M572.5 423.7L577.5 423.6 M593.1 410.0L598.4 424.6M598.0 423.4L603.0 423.0 M617.7 410.0L620.7 425.2M620.4 424.0L625.4 424.3 M642.3 410.0L646.3 425.0M646.0 423.8L651.0 423.8 M666.8 410.0L671.9 424.7M671.5 423.5L676.5 423.1 M691.4 410.0L694.1 425.3M693.9 424.1L698.9 424.5 M716.0 410.0L725.7 422.0M725.0 421.1L729.5 419.0 M740.5 410.0L751.1 421.3M750.3 420.5L754.7 418.1 M765.1 410.0L754.9 421.7M755.7 420.8L758.5 424.9 M789.7 410.0L780.3 422.4M781.0 421.4L784.2 425.3 M814.2 410.0L802.7 420.4M803.6 419.6L805.9 424.0 M838.8 410.0L828.0 421.1M828.9 420.3L831.5 424.6 M863.4 410.0L851.0 419.3M851.9 418.6L853.9 423.2 M887.9 410.0L876.2 420.2M877.1 419.4L879.4 423.9 M912.5 410.0L901.5 421.0M902.4 420.1L904.9 424.4 M937.0 410.0L924.5 419.1M925.5 418.4L927.3 423.1 M961.6 410.0L953.9 423.4M954.5 422.4L958.0 425.9 M986.2 410.0L979.4 423.9M979.9 422.9L983.7 426.1 M1010.7 410.0L1001.8 422.7M1002.5 421.7L1005.8 425.5 M1035.3 410.0L1027.3 423.3M1027.9 422.3L1031.5 425.8 M1059.9 410.0L1052.8 423.8M1053.4 422.7L1057.1 426.1 M1084.4 410.0L1075.3 422.5M1076.0 421.6L1079.2 425.4" fill="none" stroke="#222" stroke-width="1"/>
<polyline points="126.0,93.6 136.4,86.8 147.3,83.5 155.5,85.5 163.6,90.0 170.5,78.6 174.5,69.0" fill="none" stroke="#7410e0" stroke-width="2.4" stroke-linejoin="round" />
<polyline points="126.0,131.8 147.3,130.5 174.5,129.0 196.4,126.4 223.6,120.9 237.3,114.0 248.2,104.5 256.4,104.5 264.5,108.6 272.7,114.6 283.6,103.2 297.3,95.0 324.5,91.5 349.0,84.6 365.4,85.5 372.0,85.0" fill="none" stroke="#7410e0" stroke-width="2.4" stroke-linejoin="round" />
<polyline points="397.0,88.0 420.0,92.3 435.5,88.2 468.0,89.0 509.0,90.0 550.0,90.9 563.6,91.5 577.0,96.4 596.0,100.5 618.0,107.3 645.4,104.5 672.7,107.3 700.0,112.0 707.0,112.7 734.5,111.4 741.0,111.0" fill="none" stroke="#7410e0" stroke-width="2.4" stroke-linejoin="round" />
<polyline points="765.0,109.2 794.5,104.5 821.8,86.8 849.0,82.7 865.4,88.2 895.5,88.9 922.7,94.5 945.5,90.0 968.0,86.6 997.7,88.9 1038.6,86.0 1054.5,87.7 1072.7,91.8 1090.0,91.0" fill="none" stroke="#7410e0" stroke-width="2.4" stroke-linejoin="round" />
<polyline points="631.8,69.0 645.4,73.2 659.0,74.5 672.7,77.3 696.0,82.7 721.0,84.6 734.5,80.0 748.0,69.0" fill="none" stroke="#7410e0" stroke-width="2.4" stroke-linejoin="round" />
<polyline points="126.0,157.7 147.3,159.9 176.0,161.0" fill="none" stroke="#000" stroke-width="3.2" stroke-linejoin="round" />
<polyline points="126.0,157.7 147.3,159.9 176.0,161.0" fill="none" stroke="#fff" stroke-width="1.2" stroke-linejoin="round" />
<polyline points="198.0,160.4 215.5,161.8 229.0,165.4 240.0,163.2 248.2,157.7 272.7,153.6 297.3,150.9 321.8,152.3 335.4,154.2 351.8,148.2 370.9,150.0 392.7,146.8 416.4,140.0 435.5,126.4 457.3,122.3 468.2,129.0 481.8,137.3 498.0,135.9 514.5,131.8 531.0,130.5 547.3,122.3 563.6,122.3 577.3,127.7 591.0,138.6 618.0,137.3 640.0,134.5 656.4,138.0 667.3,135.4 694.5,135.4 715.5,140.0 751.0,144.6 767.3,141.4 800.0,131.8 835.5,126.4 871.0,131.0 878.0,133.0" fill="none" stroke="#000" stroke-width="3.2" stroke-linejoin="round" />
<polyline points="198.0,160.4 215.5,161.8 229.0,165.4 240.0,163.2 248.2,157.7 272.7,153.6 297.3,150.9 321.8,152.3 335.4,154.2 351.8,148.2 370.9,150.0 392.7,146.8 416.4,140.0 435.5,126.4 457.3,122.3 468.2,129.0 481.8,137.3 498.0,135.9 514.5,131.8 531.0,130.5 547.3,122.3 563.6,122.3 577.3,127.7 591.0,138.6 618.0,137.3 640.0,134.5 656.4,138.0 667.3,135.4 694.5,135.4 715.5,140.0 751.0,144.6 767.3,141.4 800.0,131.8 835.5,126.4 871.0,131.0 878.0,133.0" fill="none" stroke="#fff" stroke-width="1.2" stroke-linejoin="round" />
<polyline points="897.0,134.5 925.4,138.0 936.4,133.2 952.7,118.2 970.5,111.6 986.4,117.3 1009.0,133.2 1027.0,131.0 1050.0,119.5 1066.0,118.4 1090.0,123.0" fill="none" stroke="#000" stroke-width="3.2" stroke-linejoin="round" />
<polyline points="897.0,134.5 925.4,138.0 936.4,133.2 952.7,118.2 970.5,111.6 986.4,117.3 1009.0,133.2 1027.0,131.0 1050.0,119.5 1066.0,118.4 1090.0,123.0" fill="none" stroke="#fff" stroke-width="1.2" stroke-linejoin="round" />
<polyline points="126.0,188.3 147.3,196.0 174.5,196.4 185.5,197.3 201.8,191.8 215.5,198.6 234.5,205.4 251.0,207.4 272.7,204.0 297.3,195.4 321.8,198.6 338.0,196.0 365.4,189.0 387.3,188.3 420.0,180.9 432.7,179.0 446.4,181.7 460.0,185.5 488.0,186.4" fill="none" stroke="#1890f0" stroke-width="2" stroke-linejoin="round" />
<polyline points="503.6,190.4 525.5,191.8 541.8,202.7 555.5,204.0 563.0,212.0 566.0,226.0 572.0,262.0 569.0,278.0 555.5,290.4 547.0,287.7 563.6,275.5 566.4,251.0 567.0,222.0 580.0,204.0 588.0,179.5 601.8,171.4 618.2,176.3 631.8,171.4 645.4,179.5 656.4,186.4 672.7,189.0 679.5,193.2 683.6,168.6 689.0,164.5 695.9,171.4 698.6,193.2 707.3,197.3 734.5,190.4 761.8,191.8 795.0,191.8" fill="none" stroke="#1890f0" stroke-width="2" stroke-linejoin="round" />
<polyline points="809.0,190.4 816.4,190.4 838.0,195.9 871.0,182.8 887.3,180.9 903.6,184.4 925.4,179.0 952.7,181.7 980.0,182.8 997.7,178.6 1022.7,181.4 1045.5,185.5 1059.0,176.4 1081.8,164.5 1090.0,164.0" fill="none" stroke="#1890f0" stroke-width="2" stroke-linejoin="round" />
<polyline points="381.8,212.7 392.0,206.0 403.6,207.3 406.4,215.5 398.0,228.0 392.7,234.5 383.0,231.0 380.0,222.0 381.8,212.7" fill="none" stroke="#1890f0" stroke-width="2" stroke-linejoin="round" />
<polyline points="430.0,215.5 438.0,211.4 445.0,223.6 443.6,237.3 432.7,241.4 428.6,229.0 430.0,215.5" fill="none" stroke="#1890f0" stroke-width="2" stroke-linejoin="round" />
<polyline points="454.5,251.0 465.5,244.0 481.8,245.5 492.7,249.5 507.7,248.2 511.8,259.0 503.6,267.3 490.0,271.4 476.4,266.0 462.7,261.8 454.5,251.0" fill="none" stroke="#1890f0" stroke-width="2" stroke-linejoin="round" />
<polyline points="630.0,218.0 634.5,225.0 633.0,237.0 627.0,236.0 626.0,225.0 630.0,218.0" fill="none" stroke="#1890f0" stroke-width="2" stroke-linejoin="round" />
<polyline points="684.0,242.7 691.0,241.4 707.3,249.5 727.7,248.2 731.8,260.4 721.0,259.0 707.3,257.7 691.0,264.5 684.0,259.0 684.0,242.7" fill="none" stroke="#1890f0" stroke-width="2" stroke-linejoin="round" />
<polyline points="604.5,240.0 607.3,256.0" fill="none" stroke="#1890f0" stroke-width="2" stroke-linejoin="round" />
<polyline points="683.6,248.2 694.5,241.4 700.0,245.5" fill="none" stroke="#1890f0" stroke-width="2" stroke-linejoin="round" />
<polyline points="126.0,272.7 138.5,255.8 149.0,283.0 161.0,287.7 174.5,291.8 185.5,287.7 199.0,287.7 215.5,278.0 234.5,262.0 256.4,266.0 274.5,270.0 297.3,267.3 316.4,266.7 332.7,264.5 338.0,267.3 354.5,283.6 376.4,294.5 392.7,295.0 406.4,292.4 421.8,302.7 454.5,316.4 481.8,326.0 495.5,324.5 517.3,316.4 528.0,321.8 535.0,325.0" fill="none" stroke="#00c8c8" stroke-width="2" stroke-linejoin="round" />
<polyline points="556.0,327.0 577.3,330.0 596.0,324.5 618.0,313.6 640.0,308.0 659.0,316.4 672.7,321.8 696.4,316.4 712.7,312.3 726.4,319.0 742.7,313.6 756.4,316.4 770.0,313.6 783.6,316.4 800.0,309.5 821.8,305.5 843.6,306.8 871.0,302.7 892.7,301.4 898.0,306.8 911.8,294.5 936.4,291.8 963.6,294.5 977.3,292.5 995.5,300.5 1009.0,297.0 1022.7,302.7 1043.0,305.0 1059.0,307.3 1072.7,302.7 1090.0,305.0" fill="none" stroke="#00c8c8" stroke-width="2" stroke-linejoin="round" />
<polyline points="126.0,340.5 141.8,340.5 152.0,347.0" fill="none" stroke="#f0a830" stroke-width="2" stroke-linejoin="round" />
<polyline points="175.0,349.0 191.0,346.4 199.0,348.0 215.5,335.5 229.0,319.0 240.0,313.6 261.8,313.6 278.0,310.4 294.5,313.6 311.0,321.8 327.3,316.4 338.0,321.8 346.3,343.6 360.0,349.0 381.8,351.8 403.6,360.0 416.4,358.6 441.0,365.5 468.0,371.0 485.0,369.0" fill="none" stroke="#f0a830" stroke-width="2" stroke-linejoin="round" />
<polyline points="506.0,362.0 520.0,360.0 541.8,365.5 569.0,372.3 591.0,368.0 601.8,375.0 612.7,371.0 634.5,368.0 659.0,361.4 686.4,362.7 700.0,365.5 721.0,362.7 748.0,361.4 778.0,368.0 794.5,365.5 816.4,357.3 830.0,357.0" fill="none" stroke="#f0a830" stroke-width="2" stroke-linejoin="round" />
<polyline points="848.0,355.0 863.6,355.0 884.0,361.8 895.5,351.6 922.7,342.5 941.0,350.5 954.5,356.0 972.7,352.7 986.4,352.7 997.7,348.2 1018.0,342.5 1031.8,348.2 1045.5,348.2 1066.0,352.7 1090.0,356.0" fill="none" stroke="#f0a830" stroke-width="2" stroke-linejoin="round" />
<polyline points="126.0,380.8 138.0,385.6 159.6,394.0 160.8,398.8 150.0,410.0" fill="none" stroke="#f07820" stroke-width="2" stroke-linejoin="round" />
<polyline points="200.0,396.4 211.0,374.5 223.6,376.4 236.4,383.6 251.0,389.0 272.7,389.0 285.5,390.0 283.6,394.5 269.0,398.0 260.0,404.5 249.0,405.5 247.3,410.0" fill="none" stroke="#f07820" stroke-width="2" stroke-linejoin="round" />
<polyline points="291.0,410.0 298.0,396.4 301.8,380.0 309.0,369.0 320.0,376.4 334.5,392.7 341.8,400.0 343.6,410.0" fill="none" stroke="#f07820" stroke-width="2" stroke-linejoin="round" />
<polyline points="389.0,410.0 396.4,402.7 400.0,405.5" fill="none" stroke="#f07820" stroke-width="2" stroke-linejoin="round" />
<polyline points="503.6,410.0 520.0,395.5 536.4,405.0 547.0,406.4 552.7,410.0" fill="none" stroke="#f07820" stroke-width="2" stroke-linejoin="round" />
<polyline points="651.0,410.0 661.8,402.0 675.0,405.0 681.0,410.0" fill="none" stroke="#f07820" stroke-width="2" stroke-linejoin="round" />
<polyline points="696.4,410.0 712.7,403.6 729.0,403.6 734.5,410.0" fill="none" stroke="#f07820" stroke-width="2" stroke-linejoin="round" />
<polyline points="794.5,410.0 811.0,392.7 827.3,395.5 832.7,410.0" fill="none" stroke="#f07820" stroke-width="2" stroke-linejoin="round" />
<polyline points="884.5,410.0 898.0,387.3 914.5,392.7 925.4,410.0" fill="none" stroke="#f07820" stroke-width="2" stroke-linejoin="round" />
<polyline points="980.7,410.0 997.7,383.4 1013.6,391.4 1029.5,401.6 1030.7,410.0" fill="none" stroke="#f07820" stroke-width="2" stroke-linejoin="round" />
<polyline points="1077.0,410.0 1090.0,398.0" fill="none" stroke="#f07820" stroke-width="2" stroke-linejoin="round" />
<polyline points="359.5,394.5 361.5,400.0 359.5,405.5 357.5,400.0 359.5,394.5" fill="none" stroke="#f07820" stroke-width="2" stroke-linejoin="round" />
<polyline points="307.3,410.0 310.0,404.5 315.5,409.0" fill="none" stroke="#f000a0" stroke-width="2" stroke-linejoin="round" />
<text x="386.0" y="92.0" font-family="Liberation Sans" font-size="16" fill="#7410e0" text-anchor="middle" textLength="22" lengthAdjust="spacingAndGlyphs">&#8212;5</text>
<text x="755.0" y="116.0" font-family="Liberation Sans" font-size="16" fill="#7410e0" text-anchor="middle" textLength="22" lengthAdjust="spacingAndGlyphs">&#8212;5</text>
<text x="188.0" y="166.0" font-family="Liberation Sans" font-size="13" fill="#000" text-anchor="middle" font-weight="bold" textLength="17" lengthAdjust="spacingAndGlyphs">FR</text>
<text x="887.0" y="138.0" font-family="Liberation Sans" font-size="13" fill="#000" text-anchor="middle" font-weight="bold" textLength="17" lengthAdjust="spacingAndGlyphs">FR</text>
<text x="496.0" y="192.0" font-family="Liberation Sans" font-size="16" fill="#1890f0" text-anchor="middle" >5</text>
<text x="802.0" y="198.0" font-family="Liberation Sans" font-size="16" fill="#1890f0" text-anchor="middle" >5</text>
<text x="545.0" y="332.0" font-family="Liberation Sans" font-size="16" fill="#00c8c8" text-anchor="middle" >10</text>
<text x="164.0" y="350.0" font-family="Liberation Sans" font-size="16" fill="#f0a830" text-anchor="middle" >15</text>
<text x="495.0" y="373.0" font-family="Liberation Sans" font-size="16" fill="#f0a830" text-anchor="middle" >15</text>
<text x="839.0" y="363.0" font-family="Liberation Sans" font-size="16" fill="#f0a830" text-anchor="middle" >15</text>
<text x="186.0" y="268.0" font-family="Liberation Sans" font-size="11.5" fill="#a0a0a0" text-anchor="middle" >30</text>
<text x="297.0" y="268.0" font-family="Liberation Sans" font-size="11.5" fill="#a0a0a0" text-anchor="middle" >50</text>
<text x="407.0" y="227.0" font-family="Liberation Sans" font-size="11.5" fill="#a0a0a0" text-anchor="middle" >70</text>
<text x="470.0" y="237.0" font-family="Liberation Sans" font-size="11.5" fill="#a0a0a0" text-anchor="middle" >30</text>
<text x="538.0" y="274.0" font-family="Liberation Sans" font-size="11.5" fill="#a0a0a0" text-anchor="middle" >50</text>
<text x="422.0" y="205.0" font-family="Liberation Sans" font-size="11.5" fill="#a0a0a0" text-anchor="middle" >10</text>
<text x="428.0" y="387.0" font-family="Liberation Sans" font-size="11.5" fill="#a0a0a0" text-anchor="middle" >90</text>
<text x="701.0" y="238.0" font-family="Liberation Sans" font-size="11.5" fill="#a0a0a0" text-anchor="middle" >30</text>
<text x="764.0" y="233.0" font-family="Liberation Sans" font-size="11.5" fill="#a0a0a0" text-anchor="middle" >10</text>
<text x="764.0" y="260.0" font-family="Liberation Sans" font-size="11.5" fill="#a0a0a0" text-anchor="middle" >70</text>
<text x="764.0" y="338.0" font-family="Liberation Sans" font-size="11.5" fill="#a0a0a0" text-anchor="middle" >90</text>
<text x="876.0" y="283.0" font-family="Liberation Sans" font-size="11.5" fill="#a0a0a0" text-anchor="middle" >70</text>
<line x1="120.5" y1="509.2" x2="1090.5" y2="509.2" stroke="#a0a0a0" stroke-width="1" stroke-dasharray="4,3"/>
<line x1="120.5" y1="492.3" x2="1090.5" y2="492.3" stroke="#a0a0a0" stroke-width="1" stroke-dasharray="4,3"/>
<line x1="120.5" y1="475.5" x2="1090.5" y2="475.5" stroke="#a0a0a0" stroke-width="1" stroke-dasharray="4,3"/>
<line x1="120.5" y1="458.6" x2="1090.5" y2="458.6" stroke="#a0a0a0" stroke-width="1" stroke-dasharray="4,3"/>
<line x1="120.5" y1="441.8" x2="1090.5" y2="441.8" stroke="#a0a0a0" stroke-width="1" stroke-dasharray="4,3"/>
<polyline points="126.4,483.5 138.7,487.0 151.0,502.4 163.2,503.8 175.5,508.8 187.8,507.0 200.1,503.8 212.4,487.4 224.7,479.2 236.9,475.1 249.2,475.6 261.5,475.6 273.8,471.5 286.1,463.8 298.4,456.0 310.6,447.0 322.9,450.6 335.2,460.6 347.5,474.7 359.8,472.4 372.1,484.7 384.3,488.3 396.6,487.0 408.9,485.4 421.2,486.0 433.5,483.1 445.7,488.8 458.0,496.0 470.3,505.8 482.6,512.0 494.9,505.1 507.2,502.9 519.4,494.5 531.7,503.5 544.0,504.7 556.3,508.8 568.6,519.5 580.9,520.6 593.1,508.1 605.4,509.7 617.7,497.4 630.0,495.1 642.3,489.9 654.5,493.8 666.8,496.7 679.1,505.8 691.4,502.0 703.7,506.5 716.0,504.7 728.2,508.1 740.5,508.1 752.8,513.8 765.1,511.0 777.4,512.2 789.7,501.3 801.9,489.9 814.2,477.0 826.5,472.9 838.8,476.3 851.1,474.2 863.4,477.2 875.6,480.2 887.9,474.8 900.2,461.3 912.5,460.1 924.8,459.7 937.0,463.7 949.3,461.3 961.6,457.8 973.9,449.5 986.2,450.0 998.5,446.4 1010.7,450.7 1023.0,459.4 1035.3,470.8 1047.6,469.6 1059.9,463.7 1072.2,454.9 1084.4,456.6" fill="none" stroke="#20c0c0" stroke-width="1.2" stroke-linejoin="round" />
<path d="M126.4 479.5L129.9 485.5L122.9 485.5Z M138.7 483.0L142.2 489.0L135.2 489.0Z M151.0 498.4L154.5 504.4L147.5 504.4Z M163.2 499.8L166.7 505.8L159.7 505.8Z M175.5 504.8L179.0 510.8L172.0 510.8Z M187.8 503.0L191.3 509.0L184.3 509.0Z M200.1 499.8L203.6 505.8L196.6 505.8Z M212.4 483.4L215.9 489.4L208.9 489.4Z M224.7 475.2L228.2 481.2L221.2 481.2Z M236.9 471.1L240.4 477.1L233.4 477.1Z M249.2 471.6L252.7 477.6L245.7 477.6Z M261.5 471.6L265.0 477.6L258.0 477.6Z M273.8 467.5L277.3 473.5L270.3 473.5Z M286.1 459.8L289.6 465.8L282.6 465.8Z M298.4 452.0L301.9 458.0L294.9 458.0Z M310.6 443.0L314.1 449.0L307.1 449.0Z M322.9 446.6L326.4 452.6L319.4 452.6Z M335.2 456.6L338.7 462.6L331.7 462.6Z M347.5 470.7L351.0 476.7L344.0 476.7Z M359.8 468.4L363.3 474.4L356.3 474.4Z M372.1 480.7L375.6 486.7L368.6 486.7Z M384.3 484.3L387.8 490.3L380.8 490.3Z M396.6 483.0L400.1 489.0L393.1 489.0Z M408.9 481.4L412.4 487.4L405.4 487.4Z M421.2 482.0L424.7 488.0L417.7 488.0Z M433.5 479.1L437.0 485.1L430.0 485.1Z M445.7 484.8L449.2 490.8L442.2 490.8Z M458.0 492.0L461.5 498.0L454.5 498.0Z M470.3 501.8L473.8 507.8L466.8 507.8Z M482.6 508.0L486.1 514.0L479.1 514.0Z M494.9 501.1L498.4 507.1L491.4 507.1Z M507.2 498.9L510.7 504.9L503.7 504.9Z M519.4 490.5L522.9 496.5L515.9 496.5Z M531.7 499.5L535.2 505.5L528.2 505.5Z M544.0 500.7L547.5 506.7L540.5 506.7Z M556.3 504.8L559.8 510.8L552.8 510.8Z M568.6 515.5L572.1 521.5L565.1 521.5Z M580.9 516.6L584.4 522.6L577.4 522.6Z M593.1 504.1L596.6 510.1L589.6 510.1Z M605.4 505.7L608.9 511.7L601.9 511.7Z M617.7 493.4L621.2 499.4L614.2 499.4Z M630.0 491.1L633.5 497.1L626.5 497.1Z M642.3 485.9L645.8 491.9L638.8 491.9Z M654.5 489.8L658.0 495.8L651.0 495.8Z M666.8 492.7L670.3 498.7L663.3 498.7Z M679.1 501.8L682.6 507.8L675.6 507.8Z M691.4 498.0L694.9 504.0L687.9 504.0Z M703.7 502.5L707.2 508.5L700.2 508.5Z M716.0 500.7L719.5 506.7L712.5 506.7Z M728.2 504.1L731.7 510.1L724.7 510.1Z M740.5 504.1L744.0 510.1L737.0 510.1Z M752.8 509.8L756.3 515.8L749.3 515.8Z M765.1 507.0L768.6 513.0L761.6 513.0Z M777.4 508.2L780.9 514.2L773.9 514.2Z M789.7 497.3L793.2 503.3L786.2 503.3Z M801.9 485.9L805.4 491.9L798.4 491.9Z M814.2 473.0L817.7 479.0L810.7 479.0Z M826.5 468.9L830.0 474.9L823.0 474.9Z M838.8 472.3L842.3 478.3L835.3 478.3Z M851.1 470.2L854.6 476.2L847.6 476.2Z M863.4 473.2L866.9 479.2L859.9 479.2Z M875.6 476.2L879.1 482.2L872.1 482.2Z M887.9 470.8L891.4 476.8L884.4 476.8Z M900.2 457.3L903.7 463.3L896.7 463.3Z M912.5 456.1L916.0 462.1L909.0 462.1Z M924.8 455.7L928.3 461.7L921.3 461.7Z M937.0 459.7L940.5 465.7L933.5 465.7Z M949.3 457.3L952.8 463.3L945.8 463.3Z M961.6 453.8L965.1 459.8L958.1 459.8Z M973.9 445.5L977.4 451.5L970.4 451.5Z M986.2 446.0L989.7 452.0L982.7 452.0Z M998.5 442.4L1002.0 448.4L995.0 448.4Z M1010.7 446.7L1014.2 452.7L1007.2 452.7Z M1023.0 455.4L1026.5 461.4L1019.5 461.4Z M1035.3 466.8L1038.8 472.8L1031.8 472.8Z M1047.6 465.6L1051.1 471.6L1044.1 471.6Z M1059.9 459.7L1063.4 465.7L1056.4 465.7Z M1072.2 450.9L1075.7 456.9L1068.7 456.9Z M1084.4 452.6L1087.9 458.6L1080.9 458.6Z" fill="#fff" stroke="#20c0c0" stroke-width="1"/>
<polyline points="126.4,500.2 138.7,493.0 151.0,482.3 163.2,485.5 175.5,495.2 187.8,494.1 200.1,488.0 212.4,503.2 224.7,514.5 236.9,507.7 249.2,500.2 261.5,507.7 273.8,516.8 286.1,512.3 298.4,507.3 310.6,514.5 322.9,520.2 335.2,505.5 347.5,496.8 359.8,497.7 372.1,499.1 384.3,491.8 396.6,482.3 408.9,486.1 421.2,490.7 433.5,481.6 445.7,470.9 458.0,470.9 470.3,473.6 482.6,465.7 494.9,457.0 507.2,464.5 519.4,472.5 531.7,460.0 544.0,453.6 556.3,453.6 568.6,457.0 580.9,451.4 593.1,445.7 605.4,453.2 617.7,464.1 630.0,458.9 642.3,455.0 654.5,458.9 666.8,464.5 679.1,458.2 691.4,450.9 703.7,458.9 716.0,468.0 728.2,462.3 740.5,458.4 752.8,462.3 765.1,470.7 777.4,464.5 789.7,459.5 801.9,472.5 814.2,485.0 826.5,479.3 838.8,471.4 851.1,474.8 863.4,483.5 875.6,478.7 887.9,474.0 900.2,485.8 912.5,491.7 924.8,485.8 937.0,475.7 949.3,480.6 961.6,485.4 973.9,483.5 986.2,477.1 998.5,485.8 1010.7,491.7 1023.0,483.5 1035.3,473.3 1047.6,477.1 1059.9,484.2 1072.2,481.1 1084.4,473.3" fill="none" stroke="#1434e6" stroke-width="2.4" stroke-linejoin="round" />
<rect x="208.8" y="589.3" width="7" height="20.7" fill="#c478f8"/>
<rect x="417.6" y="578.0" width="7" height="32.0" fill="#c478f8"/>
<rect x="429.9" y="592.0" width="7" height="18.0" fill="#c478f8"/>
<rect x="442.1" y="599.1" width="7" height="10.9" fill="#c478f8"/>
<rect x="454.4" y="601.8" width="7" height="8.2" fill="#c478f8"/>
<rect x="491.3" y="573.9" width="7" height="36.1" fill="#c478f8"/>
<rect x="503.6" y="554.1" width="7" height="55.9" fill="#c478f8"/>
<rect x="515.8" y="581.8" width="7" height="28.2" fill="#c478f8"/>
<rect x="528.1" y="599.1" width="7" height="10.9" fill="#c478f8"/>
<rect x="540.4" y="587.7" width="7" height="22.3" fill="#c478f8"/>
<rect x="552.7" y="585.9" width="7" height="24.1" fill="#c478f8"/>
<rect x="565.0" y="587.7" width="7" height="22.3" fill="#c478f8"/>
<rect x="577.3" y="592.0" width="7" height="18.0" fill="#c478f8"/>
<rect x="589.5" y="579.1" width="7" height="30.9" fill="#c478f8"/>
<rect x="601.8" y="600.9" width="7" height="9.1" fill="#c478f8"/>
<rect x="614.1" y="562.7" width="7" height="47.3" fill="#c478f8"/>
<rect x="638.7" y="605.0" width="7" height="5.0" fill="#c478f8"/>
<rect x="650.9" y="593.9" width="7" height="16.1" fill="#c478f8"/>
<rect x="663.2" y="593.9" width="7" height="16.1" fill="#c478f8"/>
<rect x="675.5" y="587.7" width="7" height="22.3" fill="#c478f8"/>
<rect x="687.8" y="580.0" width="7" height="30.0" fill="#c478f8"/>
<rect x="700.1" y="530.9" width="7" height="79.1" fill="#c478f8"/>
<rect x="712.4" y="538.0" width="7" height="72.0" fill="#c478f8"/>
<rect x="724.6" y="591.1" width="7" height="18.9" fill="#c478f8"/>
<rect x="736.9" y="595.9" width="7" height="14.1" fill="#c478f8"/>
<rect x="786.1" y="581.8" width="7" height="28.2" fill="#c478f8"/>
<rect x="798.3" y="558.0" width="7" height="52.0" fill="#c478f8"/>
<rect x="810.6" y="589.5" width="7" height="20.5" fill="#c478f8"/>
<rect x="822.9" y="607.7" width="7" height="2.3" fill="#c478f8"/>
<rect x="896.6" y="605.1" width="7" height="4.9" fill="#c478f8"/>
<rect x="908.9" y="596.1" width="7" height="13.9" fill="#c478f8"/>
<rect x="921.2" y="606.3" width="7" height="3.7" fill="#c478f8"/>
<rect x="994.9" y="589.3" width="7" height="20.7" fill="#c478f8"/>
<rect x="1007.1" y="588.1" width="7" height="21.9" fill="#c478f8"/>
<rect x="1019.4" y="577.9" width="7" height="32.1" fill="#c478f8"/>
<rect x="1031.7" y="592.1" width="7" height="17.9" fill="#c478f8"/>
<rect x="1044.0" y="596.1" width="7" height="13.9" fill="#c478f8"/>
<rect x="1056.3" y="607.0" width="7" height="3.0" fill="#c478f8"/>
<rect x="1080.8" y="609.1" width="7" height="0.9" fill="#c478f8"/>
<line x1="120.5" y1="547.3" x2="1090.5" y2="547.3" stroke="#a0a0a0" stroke-width="1" stroke-dasharray="4,3"/>
<line x1="120.5" y1="589.3" x2="1090.5" y2="589.3" stroke="#a0a0a0" stroke-width="1" stroke-dasharray="4,3"/>
<line x1="120.5" y1="568.4" x2="1090.5" y2="568.4" stroke="#f03c3c" stroke-width="1.2" stroke-dasharray="4,3"/>
<polyline points="126.4,576.4 138.7,601.4 144.8,612.0" fill="none" stroke="#f03030" stroke-width="1.2" stroke-linejoin="round" />
<polyline points="182.9,612.0 187.8,609.8 200.1,587.7 212.4,584.1 224.7,590.0 236.9,603.6 243.1,612.0" fill="none" stroke="#f03030" stroke-width="1.2" stroke-linejoin="round" />
<polyline points="310.6,609.1 322.9,606.4 326.6,612.0" fill="none" stroke="#f03030" stroke-width="1.2" stroke-linejoin="round" />
<polyline points="691.4,612.0 703.7,596.6 716.0,595.7 728.2,612.0" fill="none" stroke="#f03030" stroke-width="1.2" stroke-linejoin="round" />
<path d="M126.4 572.4L128.9 576.4L126.4 580.4L123.9 576.4Z M138.7 597.4L141.2 601.4L138.7 605.4L136.2 601.4Z M200.1 583.7L202.6 587.7L200.1 591.7L197.6 587.7Z M212.4 580.1L214.9 584.1L212.4 588.1L209.9 584.1Z M224.7 586.0L227.2 590.0L224.7 594.0L222.2 590.0Z M236.9 599.6L239.4 603.6L236.9 607.6L234.4 603.6Z M322.9 602.4L325.4 606.4L322.9 610.4L320.4 606.4Z M703.7 592.6L706.2 596.6L703.7 600.6L701.2 596.6Z M716.0 591.7L718.5 595.7L716.0 599.7L713.5 595.7Z" fill="#fff" stroke="#f03030" stroke-width="1"/>
<line x1="120.5" y1="621.4" x2="1090.5" y2="621.4" stroke="#a0a0a0" stroke-width="1" stroke-dasharray="4,3"/>
<line x1="120.5" y1="646.4" x2="1090.5" y2="646.4" stroke="#a0a0a0" stroke-width="1" stroke-dasharray="4,3"/>
<line x1="120.5" y1="671.4" x2="1090.5" y2="671.4" stroke="#a0a0a0" stroke-width="1" stroke-dasharray="4,3"/>
<path d="M126.4 649.3L173.4 653.2 M138.2 649.3L143.9 626.6 M138.2 649.3L150.7 643.6 M163.2 642.5L198.4 653.2 M213.2 653.2L247.3 645.9 M226.8 635.7L256.4 652.7 M243.9 627.7L233.6 653.9 M251.8 636.8L283.6 652.7 M265.5 635.7L284.8 652.7 M291.6 626.6L297.3 651.6 M310.9 654.5L345.0 666.8 M313.2 669.8L358.6 652.7 M324.5 655.0L347.3 667.5 M349.5 669.8L370.0 655.0 M360.9 666.4L370.0 661.8 M360.0 666.4L385.0 655.0 M387.3 678.9L395.2 653.9 M397.5 677.7L407.7 653.9 M408.9 676.6L420.2 653.9 M421.4 677.7L432.7 653.9 M425.9 666.4L444.1 653.9 M437.3 670.9L457.7 653.9 M450.9 670.9L471.4 653.9 M463.4 670.9L482.7 653.9 M475.9 672.0L494.1 653.9 M504.3 678.9L506.6 653.9 M516.8 677.7L523.6 653.9 M521.4 675.5L532.7 655.0 M540.7 678.9L544.1 653.9 M550.9 674.3L564.5 653.9 M560.0 670.9L573.6 653.9 M571.4 669.8L589.5 653.9 M588.4 674.3L603.2 653.9 M608.0 677.7L617.0 653.9 M609.1 670.9L628.4 653.9 M630.7 678.9L642.0 653.9 M655.7 653.9L668.2 677.7 M665.9 680.0L678.4 655.0 M670.5 670.9L689.8 653.9 M704.5 653.9L723.9 670.9 M715.9 677.7L727.3 653.9 M713.6 658.4L750.0 652.7 M723.9 658.4L775.0 652.7 M740.9 659.5L788.6 653.2 M798.9 657.3L827.3 664.1 M811.4 654.5L850.0 653.2 M820.5 653.9L850.0 658.4 M840.0 654.6L874.3 653.5 M870.7 674.7L886.1 654.6 M899.1 661.7L922.7 652.3 M910.9 648.7L923.9 665.3 M915.7 652.3L946.4 653.5 M947.6 657.0L971.2 653.5 M968.8 674.7L984.2 654.6 M998.4 654.6L1031.5 668.8 M1010.2 662.9L1045.7 653.5 M1017.3 679.5L1022.0 655.8 M1019.7 660.6L1057.5 654.6 M1036.2 660.6L1070.5 654.6 M1071.7 677.1L1083.5 654.6" fill="none" stroke="#8c6c50" stroke-width="1"/>
<polyline points="126.4,643.2 138.7,680.0 151.0,663.6 163.2,666.4 175.5,665.2 187.8,675.9 200.1,683.4 212.4,643.2 224.7,634.1 236.9,671.4 249.2,664.5 261.5,665.2 273.8,666.8 286.1,668.2 298.4,688.0 310.6,647.0 322.9,634.5 335.2,665.9 347.5,658.4 359.8,656.8 372.1,654.5 384.3,656.8 396.6,618.2 408.9,617.5 421.2,631.8 433.5,625.5 445.7,642.5 458.0,640.9 470.3,636.4 482.6,640.9 494.9,644.8 507.2,622.0 519.4,616.4 531.7,652.7 544.0,652.3 556.3,657.7 568.6,650.0 580.9,653.9 593.1,654.5 605.4,644.1 617.7,626.6 630.0,645.9 642.3,668.2 654.5,675.9 666.8,672.7 679.1,673.2 691.4,664.5 703.7,643.2 716.0,651.6 728.2,678.9 740.5,662.3 752.8,657.3 765.1,659.5 777.4,663.0 789.7,664.1 801.9,670.9 814.2,659.5 826.5,678.2 838.8,664.5 851.1,663.6 863.4,659.4 875.6,660.1 887.9,678.3 900.2,649.9 912.5,640.5 924.8,689.6 937.0,664.1 949.3,664.6 961.6,665.3 973.9,667.6 986.2,687.7 998.5,640.5 1010.7,644.0 1023.0,667.6 1035.3,662.9 1047.6,664.1 1059.9,658.2 1072.2,660.6 1084.4,662.9" fill="none" stroke="#f0961e" stroke-width="1.2" stroke-linejoin="round" />
<path d="M126.4 639.7L129.0 643.2L126.4 646.7L123.8 643.2Z M138.7 676.5L141.3 680.0L138.7 683.5L136.1 680.0Z M151.0 660.1L153.6 663.6L151.0 667.1L148.4 663.6Z M163.2 662.9L165.8 666.4L163.2 669.9L160.6 666.4Z M175.5 661.7L178.1 665.2L175.5 668.7L172.9 665.2Z M187.8 672.4L190.4 675.9L187.8 679.4L185.2 675.9Z M200.1 679.9L202.7 683.4L200.1 686.9L197.5 683.4Z M212.4 639.7L215.0 643.2L212.4 646.7L209.8 643.2Z M224.7 630.6L227.3 634.1L224.7 637.6L222.1 634.1Z M236.9 667.9L239.5 671.4L236.9 674.9L234.3 671.4Z M249.2 661.0L251.8 664.5L249.2 668.0L246.6 664.5Z M261.5 661.7L264.1 665.2L261.5 668.7L258.9 665.2Z M273.8 663.3L276.4 666.8L273.8 670.3L271.2 666.8Z M286.1 664.7L288.7 668.2L286.1 671.7L283.5 668.2Z M298.4 684.5L301.0 688.0L298.4 691.5L295.8 688.0Z M310.6 643.5L313.2 647.0L310.6 650.5L308.0 647.0Z M322.9 631.0L325.5 634.5L322.9 638.0L320.3 634.5Z M335.2 662.4L337.8 665.9L335.2 669.4L332.6 665.9Z M347.5 654.9L350.1 658.4L347.5 661.9L344.9 658.4Z M359.8 653.3L362.4 656.8L359.8 660.3L357.2 656.8Z M372.1 651.0L374.7 654.5L372.1 658.0L369.4 654.5Z M384.3 653.3L386.9 656.8L384.3 660.3L381.7 656.8Z M396.6 614.7L399.2 618.2L396.6 621.7L394.0 618.2Z M408.9 614.0L411.5 617.5L408.9 621.0L406.3 617.5Z M421.2 628.3L423.8 631.8L421.2 635.3L418.6 631.8Z M433.5 622.0L436.1 625.5L433.5 629.0L430.9 625.5Z M445.7 639.0L448.3 642.5L445.7 646.0L443.1 642.5Z M458.0 637.4L460.6 640.9L458.0 644.4L455.4 640.9Z M470.3 632.9L472.9 636.4L470.3 639.9L467.7 636.4Z M482.6 637.4L485.2 640.9L482.6 644.4L480.0 640.9Z M494.9 641.3L497.5 644.8L494.9 648.3L492.3 644.8Z M507.2 618.5L509.8 622.0L507.2 625.5L504.6 622.0Z M519.4 612.9L522.0 616.4L519.4 619.9L516.8 616.4Z M531.7 649.2L534.3 652.7L531.7 656.2L529.1 652.7Z M544.0 648.8L546.6 652.3L544.0 655.8L541.4 652.3Z M556.3 654.2L558.9 657.7L556.3 661.2L553.7 657.7Z M568.6 646.5L571.2 650.0L568.6 653.5L566.0 650.0Z M580.9 650.4L583.5 653.9L580.9 657.4L578.3 653.9Z M593.1 651.0L595.7 654.5L593.1 658.0L590.5 654.5Z M605.4 640.6L608.0 644.1L605.4 647.6L602.8 644.1Z M617.7 623.1L620.3 626.6L617.7 630.1L615.1 626.6Z M630.0 642.4L632.6 645.9L630.0 649.4L627.4 645.9Z M642.3 664.7L644.9 668.2L642.3 671.7L639.7 668.2Z M654.5 672.4L657.1 675.9L654.5 679.4L651.9 675.9Z M666.8 669.2L669.4 672.7L666.8 676.2L664.2 672.7Z M679.1 669.7L681.7 673.2L679.1 676.7L676.5 673.2Z M691.4 661.0L694.0 664.5L691.4 668.0L688.8 664.5Z M703.7 639.7L706.3 643.2L703.7 646.7L701.1 643.2Z M716.0 648.1L718.6 651.6L716.0 655.1L713.4 651.6Z M728.2 675.4L730.8 678.9L728.2 682.4L725.6 678.9Z M740.5 658.8L743.1 662.3L740.5 665.8L737.9 662.3Z M752.8 653.8L755.4 657.3L752.8 660.8L750.2 657.3Z M765.1 656.0L767.7 659.5L765.1 663.0L762.5 659.5Z M777.4 659.5L780.0 663.0L777.4 666.5L774.8 663.0Z M789.7 660.6L792.3 664.1L789.7 667.6L787.1 664.1Z M801.9 667.4L804.5 670.9L801.9 674.4L799.3 670.9Z M814.2 656.0L816.8 659.5L814.2 663.0L811.6 659.5Z M826.5 674.7L829.1 678.2L826.5 681.7L823.9 678.2Z M838.8 661.0L841.4 664.5L838.8 668.0L836.2 664.5Z M851.1 660.1L853.7 663.6L851.1 667.1L848.5 663.6Z M863.4 655.9L866.0 659.4L863.4 662.9L860.8 659.4Z M875.6 656.6L878.2 660.1L875.6 663.6L873.0 660.1Z M887.9 674.8L890.5 678.3L887.9 681.8L885.3 678.3Z M900.2 646.4L902.8 649.9L900.2 653.4L897.6 649.9Z M912.5 637.0L915.1 640.5L912.5 644.0L909.9 640.5Z M924.8 686.1L927.4 689.6L924.8 693.1L922.2 689.6Z M937.0 660.6L939.6 664.1L937.0 667.6L934.4 664.1Z M949.3 661.1L951.9 664.6L949.3 668.1L946.7 664.6Z M961.6 661.8L964.2 665.3L961.6 668.8L959.0 665.3Z M973.9 664.1L976.5 667.6L973.9 671.1L971.3 667.6Z M986.2 684.2L988.8 687.7L986.2 691.2L983.6 687.7Z M998.5 637.0L1001.1 640.5L998.5 644.0L995.9 640.5Z M1010.7 640.5L1013.3 644.0L1010.7 647.5L1008.1 644.0Z M1023.0 664.1L1025.6 667.6L1023.0 671.1L1020.4 667.6Z M1035.3 659.4L1037.9 662.9L1035.3 666.4L1032.7 662.9Z M1047.6 660.6L1050.2 664.1L1047.6 667.6L1045.0 664.1Z M1059.9 654.7L1062.5 658.2L1059.9 661.7L1057.3 658.2Z M1072.2 657.1L1074.8 660.6L1072.2 664.1L1069.6 660.6Z M1084.4 659.4L1087.0 662.9L1084.4 666.4L1081.8 662.9Z" fill="#fff" stroke="#f0961e" stroke-width="1"/>
<defs><clipPath id="tclip"><polygon points="126.4,780.0 126.4,713.9 138.7,745.7 151.0,755.9 163.2,757.7 175.5,745.2 187.8,750.9 200.1,719.5 212.4,704.8 224.7,711.6 236.9,743.4 249.2,753.2 261.5,754.8 273.8,758.2 286.1,762.3 298.4,721.4 310.6,701.8 322.9,712.7 335.2,747.5 347.5,752.5 359.8,754.8 372.1,756.4 384.3,757.7 396.6,728.6 408.9,741.1 421.2,738.9 433.5,746.8 445.7,752.5 458.0,755.9 470.3,762.3 482.6,762.7 494.9,752.5 507.2,733.2 519.4,721.8 531.7,754.1 544.0,746.4 556.3,756.4 568.6,758.2 580.9,765.5 593.1,752.5 605.4,744.5 617.7,735.5 630.0,754.8 642.3,753.2 654.5,753.2 666.8,754.1 679.1,755.9 691.4,751.4 703.7,737.7 716.0,735.5 728.2,751.4 740.5,758.2 752.8,764.5 765.1,765.0 777.4,763.2 789.7,743.4 801.9,730.5 814.2,723.0 826.5,750.9 838.8,760.5 851.1,763.3 863.4,765.2 875.6,767.5 887.9,727.8 900.2,710.8 912.5,719.6 924.8,751.0 937.0,756.7 949.3,759.0 961.6,760.4 973.9,762.8 986.2,725.0 998.5,710.8 1010.7,720.7 1023.0,747.9 1035.3,755.0 1047.6,758.6 1059.9,759.7 1072.2,760.9 1084.4,731.4 1084.4,780.0"/></clipPath></defs>
<g clip-path="url(#tclip)">
<rect x="126.4" y="695" width="958.0" height="5.2" fill="#f0a830"/>
<rect x="126.4" y="700.2" width="958.0" height="21.2" fill="#f0a830"/>
<rect x="126.4" y="721.4" width="958.0" height="21" fill="#f4f47c"/>
<rect x="126.4" y="742.3" width="958.0" height="21.6" fill="#50e850"/>
<rect x="126.4" y="763.9" width="958.0" height="16" fill="#28b428"/>
</g>
<line x1="120.5" y1="700.2" x2="1090.5" y2="700.2" stroke="#a0a0a0" stroke-width="1" stroke-dasharray="4,3"/>
<line x1="120.5" y1="721.4" x2="1090.5" y2="721.4" stroke="#a0a0a0" stroke-width="1" stroke-dasharray="4,3"/>
<line x1="120.5" y1="742.3" x2="1090.5" y2="742.3" stroke="#a0a0a0" stroke-width="1" stroke-dasharray="4,3"/>
<line x1="120.5" y1="763.9" x2="1090.5" y2="763.9" stroke="#a0a0a0" stroke-width="1" stroke-dasharray="4,3"/>
<path d="M151.0 715.5L151.0 755.9M148.0 715.5L154.0 715.5M148.0 755.9L154.0 755.9 M200.1 721.8L200.1 755.9M197.1 721.8L203.1 721.8M197.1 755.9L203.1 755.9 M224.7 704.8L224.7 720.7M221.7 704.8L227.7 704.8M221.7 720.7L227.7 720.7 M249.2 713.4L249.2 754.8M246.2 713.4L252.2 713.4M246.2 754.8L252.2 754.8 M273.8 753.2L273.8 758.2M270.8 753.2L276.8 753.2M270.8 758.2L276.8 758.2 M298.4 721.8L298.4 762.3M295.4 721.8L301.4 721.8M295.4 762.3L301.4 762.3 M322.9 700.9L322.9 720.7M319.9 700.9L325.9 700.9M319.9 720.7L325.9 720.7 M347.5 714.3L347.5 752.5M344.5 714.3L350.5 714.3M344.5 752.5L350.5 752.5 M372.1 753.6L372.1 756.4M369.1 753.6L375.1 753.6M369.1 756.4L375.1 756.4 M396.6 728.6L396.6 759.3M393.6 728.6L399.6 728.6M393.6 759.3L399.6 759.3 M421.2 726.4L421.2 744.1M418.2 726.4L424.2 726.4M418.2 744.1L424.2 744.1 M445.7 735.5L445.7 752.5M442.7 735.5L448.7 735.5M442.7 752.5L448.7 752.5 M470.3 753.6L470.3 762.3M467.3 753.6L473.3 753.6M467.3 762.3L473.3 762.3 M494.9 754.1L494.9 763.2M491.9 754.1L497.9 754.1M491.9 763.2L497.9 763.2 M519.4 718.4L519.4 752.5M516.4 718.4L522.4 718.4M516.4 752.5L522.4 752.5 M544.0 721.4L544.0 756.4M541.0 721.4L547.0 721.4M541.0 756.4L547.0 756.4 M568.6 744.5L568.6 758.2M565.6 744.5L571.6 744.5M565.6 758.2L571.6 758.2 M593.1 753.6L593.1 767.3M590.1 753.6L596.1 753.6M590.1 767.3L596.1 767.3 M617.7 728.6L617.7 751.4M614.7 728.6L620.7 728.6M614.7 751.4L620.7 751.4 M642.3 737.3L642.3 757.0M639.3 737.3L645.3 737.3M639.3 757.0L645.3 757.0 M666.8 750.9L666.8 754.8M663.8 750.9L669.8 750.9M663.8 754.8L669.8 754.8 M691.4 750.9L691.4 759.3M688.4 750.9L694.4 750.9M688.4 759.3L694.4 759.3 M716.0 732.7L716.0 749.5M713.0 732.7L719.0 732.7M713.0 749.5L719.0 749.5 M740.5 736.6L740.5 758.2M737.5 736.6L743.5 736.6M737.5 758.2L743.5 758.2 M765.1 760.5L765.1 767.3M762.1 760.5L768.1 760.5M762.1 767.3L768.1 767.3 M789.7 745.7L789.7 766.1M786.7 745.7L792.7 745.7M786.7 766.1L792.7 766.1 M814.2 718.4L814.2 744.5M811.2 718.4L817.2 718.4M811.2 744.5L817.2 744.5 M838.8 722.3L838.8 760.5M835.8 722.3L841.8 722.3M835.8 760.5L841.8 760.5 M863.4 762.1L863.4 765.2M860.4 762.1L866.4 762.1M860.4 765.2L866.4 765.2 M887.9 729.0L887.9 768.0M884.9 729.0L890.9 729.0M884.9 768.0L890.9 768.0 M912.5 711.7L912.5 727.4M909.5 711.7L915.5 711.7M909.5 727.4L915.5 727.4 M937.0 720.3L937.0 756.7M934.0 720.3L940.0 720.3M934.0 756.7L940.0 756.7 M961.6 757.4L961.6 760.4M958.6 757.4L964.6 757.4M958.6 760.4L964.6 760.4 M986.2 726.6L986.2 762.1M983.2 726.6L989.2 726.6M983.2 762.1L989.2 762.1 M1010.7 711.7L1010.7 726.6M1007.7 711.7L1013.7 711.7M1007.7 726.6L1013.7 726.6 M1035.3 721.4L1035.3 755.0M1032.3 721.4L1038.3 721.4M1032.3 755.0L1038.3 755.0 M1059.9 756.2L1059.9 760.4M1056.9 756.2L1062.9 756.2M1056.9 760.4L1062.9 760.4 M1084.4 730.7L1084.4 762.1M1081.4 730.7L1087.4 730.7M1081.4 762.1L1087.4 762.1" fill="none" stroke="#783c38" stroke-width="1.1"/>
<polyline points="126.4,760.9 138.7,760.9 151.0,762.7 163.2,766.1 175.5,766.8 187.8,766.8 200.1,758.6 212.4,759.3 224.7,758.2 236.9,753.2 249.2,757.0 261.5,758.6 273.8,761.6 286.1,765.5 298.4,763.9 310.6,763.9 322.9,757.0 335.2,755.9 347.5,755.9 359.8,761.6 372.1,763.2 384.3,765.0 396.6,765.5 408.9,764.5 421.2,755.5 433.5,754.8 445.7,754.3 458.0,758.2 470.3,762.7 482.6,763.9 494.9,759.3 507.2,758.6 519.4,773.6 531.7,768.4 544.0,768.4 556.3,765.0 568.6,762.3 580.9,766.1 593.1,758.6 605.4,762.3 617.7,757.0 630.0,758.6 642.3,755.9 654.5,755.5 666.8,762.3 679.1,768.4 691.4,755.9 703.7,746.8 716.0,749.5 728.2,756.4 740.5,760.5 752.8,765.0 765.1,766.8 777.4,765.0 789.7,755.9 801.9,754.1 814.2,763.9 826.5,766.1 838.8,767.3 851.1,769.2 863.4,770.4 875.6,775.1 887.9,771.6 900.2,770.4 912.5,764.5 924.8,758.1 937.0,759.7 949.3,765.7 961.6,765.7 973.9,770.4 986.2,763.3 998.5,763.8 1010.7,758.6 1023.0,751.9 1035.3,757.4 1047.6,760.4 1059.9,762.1 1072.2,762.1 1084.4,763.3" fill="none" stroke="#f0f0f0" stroke-width="1.2" stroke-linejoin="round" />
<polyline points="126.4,760.9 138.7,760.9 151.0,762.7 163.2,766.1 175.5,766.8 187.8,766.8 200.1,758.6 212.4,759.3 224.7,758.2 236.9,753.2 249.2,757.0 261.5,758.6 273.8,761.6 286.1,765.5 298.4,763.9 310.6,763.9 322.9,757.0 335.2,755.9 347.5,755.9 359.8,761.6 372.1,763.2 384.3,765.0 396.6,765.5 408.9,764.5 421.2,755.5 433.5,754.8 445.7,754.3 458.0,758.2 470.3,762.7 482.6,763.9 494.9,759.3 507.2,758.6 519.4,773.6 531.7,768.4 544.0,768.4 556.3,765.0 568.6,762.3 580.9,766.1 593.1,758.6 605.4,762.3 617.7,757.0 630.0,758.6 642.3,755.9 654.5,755.5 666.8,762.3 679.1,768.4 691.4,755.9 703.7,746.8 716.0,749.5 728.2,756.4 740.5,760.5 752.8,765.0 765.1,766.8 777.4,765.0 789.7,755.9 801.9,754.1 814.2,763.9 826.5,766.1 838.8,767.3 851.1,769.2 863.4,770.4 875.6,775.1 887.9,771.6 900.2,770.4 912.5,764.5 924.8,758.1 937.0,759.7 949.3,765.7 961.6,765.7 973.9,770.4 986.2,763.3 998.5,763.8 1010.7,758.6 1023.0,751.9 1035.3,757.4 1047.6,760.4 1059.9,762.1 1072.2,762.1 1084.4,763.3" fill="none" stroke="#783c38" stroke-width="1.8" stroke-linejoin="round" stroke-dasharray="4,2.5"/>
<polyline points="126.4,713.9 138.7,745.7 151.0,755.9 163.2,757.7 175.5,745.2 187.8,750.9 200.1,719.5 212.4,704.8 224.7,711.6 236.9,743.4 249.2,753.2 261.5,754.8 273.8,758.2 286.1,762.3 298.4,721.4 310.6,701.8 322.9,712.7 335.2,747.5 347.5,752.5 359.8,754.8 372.1,756.4 384.3,757.7 396.6,728.6 408.9,741.1 421.2,738.9 433.5,746.8 445.7,752.5 458.0,755.9 470.3,762.3 482.6,762.7 494.9,752.5 507.2,733.2 519.4,721.8 531.7,754.1 544.0,746.4 556.3,756.4 568.6,758.2 580.9,765.5 593.1,752.5 605.4,744.5 617.7,735.5 630.0,754.8 642.3,753.2 654.5,753.2 666.8,754.1 679.1,755.9 691.4,751.4 703.7,737.7 716.0,735.5 728.2,751.4 740.5,758.2 752.8,764.5 765.1,765.0 777.4,763.2 789.7,743.4 801.9,730.5 814.2,723.0 826.5,750.9 838.8,760.5 851.1,763.3 863.4,765.2 875.6,767.5 887.9,727.8 900.2,710.8 912.5,719.6 924.8,751.0 937.0,756.7 949.3,759.0 961.6,760.4 973.9,762.8 986.2,725.0 998.5,710.8 1010.7,720.7 1023.0,747.9 1035.3,755.0 1047.6,758.6 1059.9,759.7 1072.2,760.9 1084.4,731.4" fill="none" stroke="#703838" stroke-width="2.1" stroke-linejoin="round" />
<defs><clipPath id="rclip"><polygon points="126.4,865.0 126.4,841.4 138.7,804.1 151.0,793.6 163.2,796.6 175.5,813.6 187.8,807.5 200.1,832.3 212.4,848.2 224.7,840.5 236.9,797.7 249.2,786.8 261.5,790.5 273.8,788.2 286.1,791.4 298.4,837.5 310.6,854.1 322.9,839.8 335.2,795.5 347.5,788.2 359.8,793.2 372.1,792.7 384.3,797.3 396.6,832.3 408.9,815.9 421.2,806.4 433.5,795.5 445.7,785.2 458.0,786.8 470.3,785.9 482.6,785.2 494.9,790.5 507.2,819.3 519.4,847.3 531.7,804.5 544.0,816.4 556.3,796.6 568.6,789.8 580.9,785.2 593.1,791.4 605.4,806.4 617.7,814.8 630.0,790.5 642.3,785.9 654.5,788.2 666.8,795.9 679.1,802.3 691.4,788.2 703.7,798.2 716.0,804.1 728.2,791.4 740.5,787.5 752.8,785.2 765.1,785.2 777.4,785.2 789.7,797.3 801.9,815.9 814.2,839.1 826.5,805.7 838.8,793.2 851.1,791.5 863.4,791.1 875.6,793.4 887.9,837.6 900.2,851.1 912.5,837.6 924.8,793.4 937.0,787.3 949.3,791.1 961.6,792.7 973.9,793.4 986.2,831.7 998.5,845.4 1010.7,829.8 1023.0,788.7 1035.3,785.6 1047.6,784.5 1059.9,784.9 1072.2,786.3 1084.4,827.5 1084.4,865.0"/></clipPath></defs>
<g clip-path="url(#rclip)">
<rect x="126.4" y="780" width="958.0" height="17.3" fill="#007800"/>
<rect x="126.4" y="797.3" width="958.0" height="14.1" fill="#009600"/>
<rect x="126.4" y="811.4" width="958.0" height="13.6" fill="#00be00"/>
<rect x="126.4" y="825" width="958.0" height="13.6" fill="#00f000"/>
<rect x="126.4" y="838.6" width="958.0" height="13.7" fill="#50e650"/>
<rect x="126.4" y="852.3" width="958.0" height="12.7" fill="#78d878"/>
</g>
<line x1="120.5" y1="797.3" x2="1090.5" y2="797.3" stroke="#a0a0a0" stroke-width="1" stroke-dasharray="4,3"/>
<line x1="120.5" y1="811.4" x2="1090.5" y2="811.4" stroke="#a0a0a0" stroke-width="1" stroke-dasharray="4,3"/>
<line x1="120.5" y1="825.0" x2="1090.5" y2="825.0" stroke="#a0a0a0" stroke-width="1" stroke-dasharray="4,3"/>
<line x1="120.5" y1="838.6" x2="1090.5" y2="838.6" stroke="#a0a0a0" stroke-width="1" stroke-dasharray="4,3"/>
<line x1="120.5" y1="852.3" x2="1090.5" y2="852.3" stroke="#a0a0a0" stroke-width="1" stroke-dasharray="4,3"/>
<polyline points="126.4,841.4 138.7,804.1 151.0,793.6 163.2,796.6 175.5,813.6 187.8,807.5 200.1,832.3 212.4,848.2 224.7,840.5 236.9,797.7 249.2,786.8 261.5,790.5 273.8,788.2 286.1,791.4 298.4,837.5 310.6,854.1 322.9,839.8 335.2,795.5 347.5,788.2 359.8,793.2 372.1,792.7 384.3,797.3 396.6,832.3 408.9,815.9 421.2,806.4 433.5,795.5 445.7,785.2 458.0,786.8 470.3,785.9 482.6,785.2 494.9,790.5 507.2,819.3 519.4,847.3 531.7,804.5 544.0,816.4 556.3,796.6 568.6,789.8 580.9,785.2 593.1,791.4 605.4,806.4 617.7,814.8 630.0,790.5 642.3,785.9 654.5,788.2 666.8,795.9 679.1,802.3 691.4,788.2 703.7,798.2 716.0,804.1 728.2,791.4 740.5,787.5 752.8,785.2 765.1,785.2 777.4,785.2 789.7,797.3 801.9,815.9 814.2,839.1 826.5,805.7 838.8,793.2 851.1,791.5 863.4,791.1 875.6,793.4 887.9,837.6 900.2,851.1 912.5,837.6 924.8,793.4 937.0,787.3 949.3,791.1 961.6,792.7 973.9,793.4 986.2,831.7 998.5,845.4 1010.7,829.8 1023.0,788.7 1035.3,785.6 1047.6,784.5 1059.9,784.9 1072.2,786.3 1084.4,827.5" fill="none" stroke="#00a000" stroke-width="1" stroke-linejoin="round" />
<g fill="#fff" stroke="#008000" stroke-width="0.9"><circle cx="126.4" cy="841.4" r="2.7"/><circle cx="138.7" cy="804.1" r="2.7"/><circle cx="151.0" cy="793.6" r="2.7"/><circle cx="163.2" cy="796.6" r="2.7"/><circle cx="175.5" cy="813.6" r="2.7"/><circle cx="187.8" cy="807.5" r="2.7"/><circle cx="200.1" cy="832.3" r="2.7"/><circle cx="212.4" cy="848.2" r="2.7"/><circle cx="224.7" cy="840.5" r="2.7"/><circle cx="236.9" cy="797.7" r="2.7"/><circle cx="249.2" cy="786.8" r="2.7"/><circle cx="261.5" cy="790.5" r="2.7"/><circle cx="273.8" cy="788.2" r="2.7"/><circle cx="286.1" cy="791.4" r="2.7"/><circle cx="298.4" cy="837.5" r="2.7"/><circle cx="310.6" cy="854.1" r="2.7"/><circle cx="322.9" cy="839.8" r="2.7"/><circle cx="335.2" cy="795.5" r="2.7"/><circle cx="347.5" cy="788.2" r="2.7"/><circle cx="359.8" cy="793.2" r="2.7"/><circle cx="372.1" cy="792.7" r="2.7"/><circle cx="384.3" cy="797.3" r="2.7"/><circle cx="396.6" cy="832.3" r="2.7"/><circle cx="408.9" cy="815.9" r="2.7"/><circle cx="421.2" cy="806.4" r="2.7"/><circle cx="433.5" cy="795.5" r="2.7"/><circle cx="445.7" cy="785.2" r="2.7"/><circle cx="458.0" cy="786.8" r="2.7"/><circle cx="470.3" cy="785.9" r="2.7"/><circle cx="482.6" cy="785.2" r="2.7"/><circle cx="494.9" cy="790.5" r="2.7"/><circle cx="507.2" cy="819.3" r="2.7"/><circle cx="519.4" cy="847.3" r="2.7"/><circle cx="531.7" cy="804.5" r="2.7"/><circle cx="544.0" cy="816.4" r="2.7"/><circle cx="556.3" cy="796.6" r="2.7"/><circle cx="568.6" cy="789.8" r="2.7"/><circle cx="580.9" cy="785.2" r="2.7"/><circle cx="593.1" cy="791.4" r="2.7"/><circle cx="605.4" cy="806.4" r="2.7"/><circle cx="617.7" cy="814.8" r="2.7"/><circle cx="630.0" cy="790.5" r="2.7"/><circle cx="642.3" cy="785.9" r="2.7"/><circle cx="654.5" cy="788.2" r="2.7"/><circle cx="666.8" cy="795.9" r="2.7"/><circle cx="679.1" cy="802.3" r="2.7"/><circle cx="691.4" cy="788.2" r="2.7"/><circle cx="703.7" cy="798.2" r="2.7"/><circle cx="716.0" cy="804.1" r="2.7"/><circle cx="728.2" cy="791.4" r="2.7"/><circle cx="740.5" cy="787.5" r="2.7"/><circle cx="752.8" cy="785.2" r="2.7"/><circle cx="765.1" cy="785.2" r="2.7"/><circle cx="777.4" cy="785.2" r="2.7"/><circle cx="789.7" cy="797.3" r="2.7"/><circle cx="801.9" cy="815.9" r="2.7"/><circle cx="814.2" cy="839.1" r="2.7"/><circle cx="826.5" cy="805.7" r="2.7"/><circle cx="838.8" cy="793.2" r="2.7"/><circle cx="851.1" cy="791.5" r="2.7"/><circle cx="863.4" cy="791.1" r="2.7"/><circle cx="875.6" cy="793.4" r="2.7"/><circle cx="887.9" cy="837.6" r="2.7"/><circle cx="900.2" cy="851.1" r="2.7"/><circle cx="912.5" cy="837.6" r="2.7"/><circle cx="924.8" cy="793.4" r="2.7"/><circle cx="937.0" cy="787.3" r="2.7"/><circle cx="949.3" cy="791.1" r="2.7"/><circle cx="961.6" cy="792.7" r="2.7"/><circle cx="973.9" cy="793.4" r="2.7"/><circle cx="986.2" cy="831.7" r="2.7"/><circle cx="998.5" cy="845.4" r="2.7"/><circle cx="1010.7" cy="829.8" r="2.7"/><circle cx="1023.0" cy="788.7" r="2.7"/><circle cx="1035.3" cy="785.6" r="2.7"/><circle cx="1047.6" cy="784.5" r="2.7"/><circle cx="1059.9" cy="784.9" r="2.7"/><circle cx="1072.2" cy="786.3" r="2.7"/><circle cx="1084.4" cy="827.5" r="2.7"/></g>
<rect x="132.5" y="865" width="958.0" height="85" fill="#6aacd8"/>
<rect x="156.9" y="940.7" width="12.3" height="7.7" fill="#dcdcdc"/><rect x="169.2" y="921.8" width="12.3" height="26.6" fill="#dcdcdc"/><rect x="242.9" y="944.1" width="12.3" height="4.3" fill="#dcdcdc"/><rect x="341.2" y="941.8" width="12.3" height="6.6" fill="#dcdcdc"/><rect x="365.8" y="945.9" width="12.3" height="2.5" fill="#dcdcdc"/><rect x="378.0" y="940.7" width="12.3" height="7.7" fill="#dcdcdc"/><rect x="390.3" y="932.3" width="12.3" height="16.1" fill="#dcdcdc"/><rect x="402.6" y="921.8" width="12.3" height="26.6" fill="#dcdcdc"/><rect x="414.9" y="943.0" width="12.3" height="5.4" fill="#dcdcdc"/><rect x="427.2" y="927.0" width="12.3" height="21.4" fill="#dcdcdc"/><rect x="439.4" y="921.8" width="12.3" height="26.6" fill="#dcdcdc"/><rect x="451.7" y="932.3" width="12.3" height="16.1" fill="#dcdcdc"/><rect x="464.0" y="932.3" width="12.3" height="16.1" fill="#dcdcdc"/><rect x="476.3" y="933.9" width="12.3" height="14.5" fill="#dcdcdc"/><rect x="488.6" y="939.1" width="12.3" height="9.3" fill="#dcdcdc"/><rect x="500.9" y="938.0" width="12.3" height="10.4" fill="#dcdcdc"/><rect x="513.1" y="945.9" width="12.3" height="2.5" fill="#dcdcdc"/><rect x="525.4" y="935.7" width="12.3" height="12.7" fill="#dcdcdc"/><rect x="537.7" y="935.0" width="12.3" height="13.4" fill="#dcdcdc"/><rect x="550.0" y="932.0" width="12.3" height="16.4" fill="#dcdcdc"/><rect x="562.3" y="921.8" width="12.3" height="26.6" fill="#dcdcdc"/><rect x="574.6" y="941.8" width="12.3" height="6.6" fill="#dcdcdc"/><rect x="586.8" y="927.0" width="12.3" height="21.4" fill="#dcdcdc"/><rect x="599.1" y="930.9" width="12.3" height="17.5" fill="#dcdcdc"/><rect x="611.4" y="923.2" width="12.3" height="25.2" fill="#dcdcdc"/><rect x="623.7" y="923.2" width="12.3" height="25.2" fill="#dcdcdc"/><rect x="636.0" y="924.8" width="12.3" height="23.6" fill="#dcdcdc"/><rect x="648.2" y="921.8" width="12.3" height="26.6" fill="#dcdcdc"/><rect x="660.5" y="921.8" width="12.3" height="26.6" fill="#dcdcdc"/><rect x="672.8" y="930.9" width="12.3" height="17.5" fill="#dcdcdc"/><rect x="685.1" y="940.7" width="12.3" height="7.7" fill="#dcdcdc"/><rect x="697.4" y="940.7" width="12.3" height="7.7" fill="#dcdcdc"/><rect x="709.7" y="938.0" width="12.3" height="10.4" fill="#dcdcdc"/><rect x="721.9" y="933.2" width="12.3" height="15.2" fill="#dcdcdc"/><rect x="734.2" y="944.8" width="12.3" height="3.6" fill="#dcdcdc"/><rect x="746.5" y="938.9" width="12.3" height="9.5" fill="#dcdcdc"/><rect x="758.8" y="939.5" width="12.3" height="8.9" fill="#dcdcdc"/><rect x="771.1" y="925.9" width="12.3" height="22.5" fill="#dcdcdc"/><rect x="783.4" y="945.9" width="12.3" height="2.5" fill="#dcdcdc"/><rect x="795.6" y="933.2" width="12.3" height="15.2" fill="#dcdcdc"/><rect x="807.9" y="945.9" width="12.3" height="2.5" fill="#dcdcdc"/><rect x="893.9" y="941.6" width="12.3" height="6.8" fill="#dcdcdc"/><rect x="930.7" y="942.7" width="12.3" height="5.7" fill="#dcdcdc"/><rect x="992.2" y="932.8" width="12.3" height="15.6" fill="#dcdcdc"/><rect x="1004.4" y="940.9" width="12.3" height="7.5" fill="#dcdcdc"/><rect x="1016.7" y="942.7" width="12.3" height="5.7" fill="#dcdcdc"/><rect x="1029.0" y="942.7" width="12.3" height="5.7" fill="#dcdcdc"/><rect x="1041.3" y="931.6" width="12.3" height="16.8" fill="#dcdcdc"/><rect x="1053.6" y="937.5" width="12.3" height="10.9" fill="#dcdcdc"/><rect x="1065.9" y="942.7" width="12.3" height="5.7" fill="#dcdcdc"/><rect x="1078.1" y="939.9" width="12.3" height="8.5" fill="#dcdcdc"/><rect x="316.6" y="891.1" width="12.3" height="2.5" fill="#f8f4f8"/><rect x="365.8" y="891.1" width="12.3" height="2.5" fill="#f8f4f8"/><rect x="439.4" y="891.1" width="12.3" height="2.5" fill="#f8f4f8"/><rect x="451.7" y="891.1" width="12.3" height="2.5" fill="#f8f4f8"/><rect x="464.0" y="874.1" width="12.3" height="19.5" fill="#f8f4f8"/><rect x="476.3" y="882.0" width="12.3" height="11.6" fill="#f8f4f8"/><rect x="488.6" y="891.1" width="12.3" height="2.5" fill="#f8f4f8"/><rect x="500.9" y="885.0" width="12.3" height="8.6" fill="#f8f4f8"/><rect x="537.7" y="889.1" width="12.3" height="4.5" fill="#f8f4f8"/><rect x="562.3" y="891.1" width="12.3" height="2.5" fill="#f8f4f8"/><rect x="599.1" y="891.1" width="12.3" height="2.5" fill="#f8f4f8"/><rect x="611.4" y="870.2" width="12.3" height="23.4" fill="#f8f4f8"/><rect x="623.7" y="891.1" width="12.3" height="2.5" fill="#f8f4f8"/><rect x="648.2" y="891.1" width="12.3" height="2.5" fill="#f8f4f8"/><rect x="869.3" y="883.6" width="12.3" height="10.0" fill="#f8f4f8"/><rect x="881.6" y="877.7" width="12.3" height="15.9" fill="#f8f4f8"/><rect x="893.9" y="886.0" width="12.3" height="7.6" fill="#f8f4f8"/><rect x="906.2" y="890.7" width="12.3" height="2.9" fill="#f8f4f8"/><rect x="918.5" y="880.8" width="12.3" height="12.8" fill="#f8f4f8"/><rect x="930.7" y="888.8" width="12.3" height="4.8" fill="#f8f4f8"/><rect x="943.0" y="890.7" width="12.3" height="2.9" fill="#f8f4f8"/><rect x="955.3" y="869.9" width="12.3" height="23.7" fill="#f8f4f8"/><rect x="967.6" y="871.8" width="12.3" height="21.8" fill="#f8f4f8"/><rect x="992.2" y="890.7" width="12.3" height="2.9" fill="#f8f4f8"/><rect x="1004.4" y="869.0" width="12.3" height="24.6" fill="#f8f4f8"/><rect x="1016.7" y="877.7" width="12.3" height="15.9" fill="#f8f4f8"/><rect x="1053.6" y="890.7" width="12.3" height="2.9" fill="#f8f4f8"/><rect x="1065.9" y="890.7" width="12.3" height="2.9" fill="#f8f4f8"/><rect x="1078.1" y="890.7" width="12.3" height="2.9" fill="#f8f4f8"/>
<line x1="132.5" y1="893.4" x2="1090.5" y2="893.4" stroke="#808080" stroke-width="1" stroke-dasharray="4,3"/>
<line x1="132.5" y1="920.7" x2="1090.5" y2="920.7" stroke="#808080" stroke-width="1" stroke-dasharray="4,3"/>
<line x1="132.5" y1="948.2" x2="1090.5" y2="948.2" stroke="#808080" stroke-width="1" stroke-dasharray="4,3"/>
<rect x="378.0" y="1055.9" width="10.6" height="4.3" fill="#28c828"/><rect x="381.1" y="1055.9" width="4.4" height="4.3" fill="#f03c3c"/><rect x="402.6" y="1043.9" width="10.6" height="16.3" fill="#28c828"/><rect x="405.7" y="1055.9" width="4.4" height="4.3" fill="#f03c3c"/><rect x="414.9" y="1028.0" width="10.6" height="32.2" fill="#28c828"/><rect x="418.0" y="1033.6" width="4.4" height="26.6" fill="#f03c3c"/><rect x="427.2" y="1028.0" width="10.6" height="32.2" fill="#28c828"/><rect x="430.3" y="1028.0" width="4.4" height="32.2" fill="#f03c3c"/><rect x="439.4" y="963.9" width="10.6" height="96.3" fill="#28c828"/><rect x="442.5" y="970.7" width="4.4" height="89.5" fill="#f03c3c"/><rect x="451.7" y="1009.1" width="10.6" height="51.1" fill="#28c828"/><rect x="454.8" y="1009.1" width="4.4" height="51.1" fill="#f03c3c"/><rect x="464.0" y="1009.1" width="10.6" height="51.1" fill="#28c828"/><rect x="467.1" y="1009.1" width="4.4" height="51.1" fill="#f03c3c"/><rect x="476.3" y="1005.9" width="10.6" height="54.3" fill="#28c828"/><rect x="479.4" y="1005.9" width="4.4" height="54.3" fill="#f03c3c"/><rect x="488.6" y="1017.7" width="10.6" height="42.5" fill="#28c828"/><rect x="491.7" y="1017.7" width="4.4" height="42.5" fill="#f03c3c"/><rect x="500.9" y="1005.9" width="10.6" height="54.3" fill="#28c828"/><rect x="504.0" y="1005.9" width="4.4" height="54.3" fill="#f03c3c"/><rect x="513.1" y="1050.0" width="10.6" height="10.2" fill="#28c828"/><rect x="516.2" y="1053.0" width="4.4" height="7.2" fill="#f03c3c"/><rect x="525.4" y="1047.3" width="10.6" height="12.9" fill="#28c828"/><rect x="528.5" y="1043.9" width="4.4" height="16.3" fill="#f03c3c"/><rect x="537.7" y="1047.3" width="10.6" height="12.9" fill="#28c828"/><rect x="540.8" y="1050.0" width="4.4" height="10.2" fill="#f03c3c"/><rect x="550.0" y="1037.0" width="10.6" height="23.2" fill="#28c828"/><rect x="553.1" y="1037.0" width="4.4" height="23.2" fill="#f03c3c"/><rect x="562.3" y="1025.0" width="10.6" height="35.2" fill="#28c828"/><rect x="565.4" y="1025.0" width="4.4" height="35.2" fill="#f03c3c"/><rect x="574.6" y="995.5" width="10.6" height="64.7" fill="#28c828"/><rect x="577.7" y="996.1" width="4.4" height="64.1" fill="#f03c3c"/><rect x="586.8" y="1040.9" width="10.6" height="19.3" fill="#28c828"/><rect x="589.9" y="1040.9" width="4.4" height="19.3" fill="#f03c3c"/><rect x="599.1" y="1037.0" width="10.6" height="23.2" fill="#28c828"/><rect x="602.2" y="1037.0" width="4.4" height="23.2" fill="#f03c3c"/><rect x="611.4" y="1037.0" width="10.6" height="23.2" fill="#28c828"/><rect x="614.5" y="1037.0" width="4.4" height="23.2" fill="#f03c3c"/><rect x="623.7" y="990.0" width="10.6" height="70.2" fill="#28c828"/><rect x="626.8" y="990.0" width="4.4" height="70.2" fill="#f03c3c"/><rect x="636.0" y="960.9" width="10.6" height="99.3" fill="#28c828"/><rect x="639.1" y="963.9" width="4.4" height="96.3" fill="#f03c3c"/><rect x="648.2" y="954.8" width="10.6" height="105.4" fill="#28c828"/><rect x="651.3" y="960.9" width="4.4" height="99.3" fill="#f03c3c"/><rect x="660.5" y="1043.9" width="10.6" height="16.3" fill="#28c828"/><rect x="663.6" y="1040.9" width="4.4" height="19.3" fill="#f03c3c"/><rect x="672.8" y="1040.9" width="10.6" height="19.3" fill="#28c828"/><rect x="675.9" y="1040.9" width="4.4" height="19.3" fill="#f03c3c"/><rect x="685.1" y="999.1" width="10.6" height="61.1" fill="#28c828"/><rect x="688.2" y="1001.8" width="4.4" height="58.4" fill="#f03c3c"/><rect x="697.4" y="958.0" width="10.6" height="102.2" fill="#28c828"/><rect x="700.5" y="958.0" width="4.4" height="102.2" fill="#f03c3c"/><rect x="709.7" y="987.0" width="10.6" height="73.2" fill="#28c828"/><rect x="712.8" y="987.0" width="4.4" height="73.2" fill="#f03c3c"/><rect x="721.9" y="1009.1" width="10.6" height="51.1" fill="#28c828"/><rect x="725.0" y="1009.1" width="4.4" height="51.1" fill="#f03c3c"/><rect x="734.2" y="1034.1" width="10.6" height="26.1" fill="#28c828"/><rect x="737.3" y="1034.1" width="4.4" height="26.1" fill="#f03c3c"/><rect x="746.5" y="1043.9" width="10.6" height="16.3" fill="#28c828"/><rect x="749.6" y="1043.9" width="4.4" height="16.3" fill="#f03c3c"/><rect x="758.8" y="1053.0" width="10.6" height="7.2" fill="#28c828"/><rect x="761.9" y="1055.9" width="4.4" height="4.3" fill="#f03c3c"/><rect x="771.1" y="1053.0" width="10.6" height="7.2" fill="#28c828"/><rect x="774.2" y="1050.0" width="4.4" height="10.2" fill="#f03c3c"/><rect x="783.4" y="1055.9" width="10.6" height="4.3" fill="#28c828"/><rect x="786.5" y="1055.9" width="4.4" height="4.3" fill="#f03c3c"/><rect x="795.6" y="1021.1" width="10.6" height="39.1" fill="#28c828"/><rect x="798.7" y="1025.0" width="4.4" height="35.2" fill="#f03c3c"/><rect x="807.9" y="1037.0" width="10.6" height="23.2" fill="#28c828"/><rect x="811.0" y="1037.0" width="4.4" height="23.2" fill="#f03c3c"/><rect x="823.3" y="1055.9" width="4.4" height="4.3" fill="#f03c3c"/><rect x="832.5" y="1055.9" width="10.6" height="4.3" fill="#28c828"/><rect x="933.8" y="1056.4" width="4.4" height="3.8" fill="#f03c3c"/><rect x="943.0" y="1053.0" width="10.6" height="7.2" fill="#28c828"/><rect x="946.1" y="1056.4" width="4.4" height="3.8" fill="#f03c3c"/><rect x="958.4" y="1056.4" width="4.4" height="3.8" fill="#f03c3c"/><rect x="1004.4" y="1056.4" width="10.6" height="3.8" fill="#28c828"/><rect x="1007.5" y="1056.4" width="4.4" height="3.8" fill="#f03c3c"/><rect x="1016.7" y="1043.9" width="10.6" height="16.3" fill="#28c828"/><rect x="1019.8" y="1043.9" width="4.4" height="16.3" fill="#f03c3c"/><rect x="1029.0" y="1050.0" width="10.6" height="10.2" fill="#28c828"/><rect x="1032.1" y="1053.0" width="4.4" height="7.2" fill="#f03c3c"/><rect x="1041.3" y="1053.0" width="10.6" height="7.2" fill="#28c828"/><rect x="1044.4" y="1053.0" width="4.4" height="7.2" fill="#f03c3c"/><rect x="1053.6" y="1056.4" width="10.6" height="3.8" fill="#28c828"/><rect x="1056.7" y="1056.4" width="4.4" height="3.8" fill="#f03c3c"/>
<line x1="132.5" y1="951.5" x2="1090.5" y2="951.5" stroke="#a0a0a0" stroke-width="1" stroke-dasharray="4,3"/>
<line x1="132.5" y1="973.4" x2="1090.5" y2="973.4" stroke="#a0a0a0" stroke-width="1" stroke-dasharray="4,3"/>
<line x1="132.5" y1="995.5" x2="1090.5" y2="995.5" stroke="#a0a0a0" stroke-width="1" stroke-dasharray="4,3"/>
<line x1="132.5" y1="1017.3" x2="1090.5" y2="1017.3" stroke="#a0a0a0" stroke-width="1" stroke-dasharray="4,3"/>
<line x1="132.5" y1="1039.1" x2="1090.5" y2="1039.1" stroke="#a0a0a0" stroke-width="1" stroke-dasharray="4,3"/>
<text x="1084.5" y="965.0" font-family="Liberation Sans" font-size="13.5" fill="#000" text-anchor="end" stroke="#fff" stroke-width="0.3" textLength="135" lengthAdjust="spacingAndGlyphs" xml:space="preserve">Run Total  =  27.88</text>
<line x1="175.5" y1="70.0" x2="175.5" y2="1060.0" stroke="#a0a0a0" stroke-width="1" stroke-dasharray="4,3"/>
<line x1="273.8" y1="70.0" x2="273.8" y2="1060.0" stroke="#a0a0a0" stroke-width="1" stroke-dasharray="4,3"/>
<line x1="372.0" y1="70.0" x2="372.0" y2="1060.0" stroke="#a0a0a0" stroke-width="1" stroke-dasharray="4,3"/>
<line x1="470.3" y1="70.0" x2="470.3" y2="1060.0" stroke="#a0a0a0" stroke-width="1" stroke-dasharray="4,3"/>
<line x1="568.5" y1="70.0" x2="568.5" y2="1060.0" stroke="#a0a0a0" stroke-width="1" stroke-dasharray="4,3"/>
<line x1="666.8" y1="70.0" x2="666.8" y2="1060.0" stroke="#a0a0a0" stroke-width="1" stroke-dasharray="4,3"/>
<line x1="765.1" y1="70.0" x2="765.1" y2="1060.0" stroke="#a0a0a0" stroke-width="1" stroke-dasharray="4,3"/>
<line x1="863.3" y1="70.0" x2="863.3" y2="1060.0" stroke="#a0a0a0" stroke-width="1" stroke-dasharray="4,3"/>
<line x1="961.6" y1="70.0" x2="961.6" y2="1060.0" stroke="#a0a0a0" stroke-width="1" stroke-dasharray="4,3"/>
<line x1="1059.8" y1="70.0" x2="1059.8" y2="1060.0" stroke="#a0a0a0" stroke-width="1" stroke-dasharray="4,3"/>
<path d="M120.5 70H1090.5V865H120.5Z M120.5 440H1090.5 M120.5 525.5H1090.5 M120.5 610H1090.5 M120.5 695.3H1090.5 M120.5 780H1090.5" fill="none" stroke="#000" stroke-width="1.6"/>
<path d="M132.5 865H1090.5V1060.2H132.5Z M132.5 950H1090.5" fill="none" stroke="#000" stroke-width="1.6"/>
<path d="M175.5 65.5V70 M175.5 1060V1065 M273.8 65.5V70 M273.8 1060V1065 M372.0 65.5V70 M372.0 1060V1065 M470.3 65.5V70 M470.3 1060V1065 M568.5 65.5V70 M568.5 1060V1065 M666.8 65.5V70 M666.8 1060V1065 M765.1 65.5V70 M765.1 1060V1065 M863.3 65.5V70 M863.3 1060V1065 M961.6 65.5V70 M961.6 1060V1065 M1059.8 65.5V70 M1059.8 1060V1065" stroke="#000" stroke-width="1.4"/>
<g font-family="Liberation Serif" font-size="25.5" fill="#000" stroke="#000" stroke-width="0.3"><text x="361.5" y="33.6" textLength="45.0" lengthAdjust="spacingAndGlyphs">GFS</text><text x="422.5" y="33.6" textLength="106.5" lengthAdjust="spacingAndGlyphs">0~10day</text><text x="543.3" y="33.6" textLength="116.9" lengthAdjust="spacingAndGlyphs">3-hourly</text><text x="673.4" y="33.6" textLength="37.6" lengthAdjust="spacingAndGlyphs">for</text><text x="726.5" y="33.6" textLength="137.6" lengthAdjust="spacingAndGlyphs">MAHANORO</text><text x="872.2" y="33.6" textLength="110.1" lengthAdjust="spacingAndGlyphs">(48.75E,</text><text x="1001.3" y="33.6" textLength="75.6" lengthAdjust="spacingAndGlyphs">19.75S)</text></g>
<text x="175.5" y="62.7" font-family="Liberation Sans" font-size="16.5" text-anchor="middle" textLength="43" lengthAdjust="spacingAndGlyphs" fill="#000" stroke="#fff" stroke-width="0.3">11JUN</text>
<text x="175.5" y="1080" font-family="Liberation Sans" font-size="16.5" text-anchor="middle" textLength="43" lengthAdjust="spacingAndGlyphs" fill="#000" stroke="#fff" stroke-width="0.3">11JUN</text>
<text x="273.8" y="62.7" font-family="Liberation Sans" font-size="16.5" text-anchor="middle" textLength="43" lengthAdjust="spacingAndGlyphs" fill="#000" stroke="#fff" stroke-width="0.3">12JUN</text>
<text x="273.8" y="1080" font-family="Liberation Sans" font-size="16.5" text-anchor="middle" textLength="43" lengthAdjust="spacingAndGlyphs" fill="#000" stroke="#fff" stroke-width="0.3">12JUN</text>
<text x="372.0" y="62.7" font-family="Liberation Sans" font-size="16.5" text-anchor="middle" textLength="43" lengthAdjust="spacingAndGlyphs" fill="#000" stroke="#fff" stroke-width="0.3">13JUN</text>
<text x="372.0" y="1080" font-family="Liberation Sans" font-size="16.5" text-anchor="middle" textLength="43" lengthAdjust="spacingAndGlyphs" fill="#000" stroke="#fff" stroke-width="0.3">13JUN</text>
<text x="470.3" y="62.7" font-family="Liberation Sans" font-size="16.5" text-anchor="middle" textLength="43" lengthAdjust="spacingAndGlyphs" fill="#000" stroke="#fff" stroke-width="0.3">14JUN</text>
<text x="470.3" y="1080" font-family="Liberation Sans" font-size="16.5" text-anchor="middle" textLength="43" lengthAdjust="spacingAndGlyphs" fill="#000" stroke="#fff" stroke-width="0.3">14JUN</text>
<text x="568.5" y="62.7" font-family="Liberation Sans" font-size="16.5" text-anchor="middle" textLength="43" lengthAdjust="spacingAndGlyphs" fill="#000" stroke="#fff" stroke-width="0.3">15JUN</text>
<text x="568.5" y="1080" font-family="Liberation Sans" font-size="16.5" text-anchor="middle" textLength="43" lengthAdjust="spacingAndGlyphs" fill="#000" stroke="#fff" stroke-width="0.3">15JUN</text>
<text x="666.8" y="62.7" font-family="Liberation Sans" font-size="16.5" text-anchor="middle" textLength="43" lengthAdjust="spacingAndGlyphs" fill="#000" stroke="#fff" stroke-width="0.3">16JUN</text>
<text x="666.8" y="1080" font-family="Liberation Sans" font-size="16.5" text-anchor="middle" textLength="43" lengthAdjust="spacingAndGlyphs" fill="#000" stroke="#fff" stroke-width="0.3">16JUN</text>
<text x="765.1" y="62.7" font-family="Liberation Sans" font-size="16.5" text-anchor="middle" textLength="43" lengthAdjust="spacingAndGlyphs" fill="#000" stroke="#fff" stroke-width="0.3">17JUN</text>
<text x="765.1" y="1080" font-family="Liberation Sans" font-size="16.5" text-anchor="middle" textLength="43" lengthAdjust="spacingAndGlyphs" fill="#000" stroke="#fff" stroke-width="0.3">17JUN</text>
<text x="863.3" y="62.7" font-family="Liberation Sans" font-size="16.5" text-anchor="middle" textLength="43" lengthAdjust="spacingAndGlyphs" fill="#000" stroke="#fff" stroke-width="0.3">18JUN</text>
<text x="863.3" y="1080" font-family="Liberation Sans" font-size="16.5" text-anchor="middle" textLength="43" lengthAdjust="spacingAndGlyphs" fill="#000" stroke="#fff" stroke-width="0.3">18JUN</text>
<text x="961.6" y="62.7" font-family="Liberation Sans" font-size="16.5" text-anchor="middle" textLength="43" lengthAdjust="spacingAndGlyphs" fill="#000" stroke="#fff" stroke-width="0.3">19JUN</text>
<text x="961.6" y="1080" font-family="Liberation Sans" font-size="16.5" text-anchor="middle" textLength="43" lengthAdjust="spacingAndGlyphs" fill="#000" stroke="#fff" stroke-width="0.3">19JUN</text>
<text x="1059.8" y="62.7" font-family="Liberation Sans" font-size="16.5" text-anchor="middle" textLength="43" lengthAdjust="spacingAndGlyphs" fill="#000" stroke="#fff" stroke-width="0.3">20JUN</text>
<text x="1059.8" y="1080" font-family="Liberation Sans" font-size="16.5" text-anchor="middle" textLength="43" lengthAdjust="spacingAndGlyphs" fill="#000" stroke="#fff" stroke-width="0.3">20JUN</text>
<text x="112.0" y="106.8" font-family="Liberation Sans" font-size="14" text-anchor="end" textLength="20" lengthAdjust="spacingAndGlyphs" fill="#000" stroke="#fff" stroke-width="0.12">500</text>
<text x="112.0" y="168.5" font-family="Liberation Sans" font-size="14" text-anchor="end" textLength="20" lengthAdjust="spacingAndGlyphs" fill="#000" stroke="#fff" stroke-width="0.12">600</text>
<text x="112.0" y="230.1" font-family="Liberation Sans" font-size="14" text-anchor="end" textLength="20" lengthAdjust="spacingAndGlyphs" fill="#000" stroke="#fff" stroke-width="0.12">700</text>
<text x="112.0" y="291.8" font-family="Liberation Sans" font-size="14" text-anchor="end" textLength="20" lengthAdjust="spacingAndGlyphs" fill="#000" stroke="#fff" stroke-width="0.12">800</text>
<text x="112.0" y="353.4" font-family="Liberation Sans" font-size="14" text-anchor="end" textLength="20" lengthAdjust="spacingAndGlyphs" fill="#000" stroke="#fff" stroke-width="0.12">900</text>
<text x="112.0" y="415.0" font-family="Liberation Sans" font-size="14" text-anchor="end" textLength="27" lengthAdjust="spacingAndGlyphs" fill="#000" stroke="#fff" stroke-width="0.12">1000</text>
<text x="112.0" y="447.4" font-family="Liberation Sans" font-size="12.5" text-anchor="end" textLength="26" lengthAdjust="spacingAndGlyphs" fill="#000" stroke="#fff" stroke-width="0.12">1029</text>
<text x="112.0" y="466.0" font-family="Liberation Sans" font-size="12.5" text-anchor="end" textLength="26" lengthAdjust="spacingAndGlyphs" fill="#000" stroke="#fff" stroke-width="0.12">1026</text>
<text x="112.0" y="484.6" font-family="Liberation Sans" font-size="12.5" text-anchor="end" textLength="26" lengthAdjust="spacingAndGlyphs" fill="#000" stroke="#fff" stroke-width="0.12">1023</text>
<text x="112.0" y="503.2" font-family="Liberation Sans" font-size="12.5" text-anchor="end" textLength="26" lengthAdjust="spacingAndGlyphs" fill="#000" stroke="#fff" stroke-width="0.12">1020</text>
<text x="112.0" y="521.8" font-family="Liberation Sans" font-size="12.5" text-anchor="end" textLength="26" lengthAdjust="spacingAndGlyphs" fill="#000" stroke="#fff" stroke-width="0.12">1017</text>
<text x="61.0" y="446.7" font-family="Liberation Sans" font-size="12.5" text-anchor="end" textLength="19" lengthAdjust="spacingAndGlyphs" fill="#000" stroke="#fff" stroke-width="0.12">572</text>
<text x="61.0" y="463.6" font-family="Liberation Sans" font-size="12.5" text-anchor="end" textLength="19" lengthAdjust="spacingAndGlyphs" fill="#000" stroke="#fff" stroke-width="0.12">571</text>
<text x="61.0" y="480.4" font-family="Liberation Sans" font-size="12.5" text-anchor="end" textLength="19" lengthAdjust="spacingAndGlyphs" fill="#000" stroke="#fff" stroke-width="0.12">570</text>
<text x="61.0" y="497.2" font-family="Liberation Sans" font-size="12.5" text-anchor="end" textLength="19" lengthAdjust="spacingAndGlyphs" fill="#000" stroke="#fff" stroke-width="0.12">569</text>
<text x="61.0" y="514.1" font-family="Liberation Sans" font-size="12.5" text-anchor="end" textLength="19" lengthAdjust="spacingAndGlyphs" fill="#000" stroke="#fff" stroke-width="0.12">568</text>
<text x="112.0" y="530.5" font-family="Liberation Sans" font-size="12.5" text-anchor="end" textLength="19.5" lengthAdjust="spacingAndGlyphs" fill="#000" stroke="#fff" stroke-width="0.12">168</text>
<text x="112.0" y="551.5" font-family="Liberation Sans" font-size="12.5" text-anchor="end" textLength="19.5" lengthAdjust="spacingAndGlyphs" fill="#000" stroke="#fff" stroke-width="0.12">126</text>
<text x="112.0" y="572.6" font-family="Liberation Sans" font-size="12.5" text-anchor="end" textLength="13.0" lengthAdjust="spacingAndGlyphs" fill="#000" stroke="#fff" stroke-width="0.12">84</text>
<text x="112.0" y="593.6" font-family="Liberation Sans" font-size="12.5" text-anchor="end" textLength="13.0" lengthAdjust="spacingAndGlyphs" fill="#000" stroke="#fff" stroke-width="0.12">42</text>
<text x="43.0" y="530.5" font-family="Liberation Sans" font-size="12.5" text-anchor="end" textLength="13.0" lengthAdjust="spacingAndGlyphs" fill="#000" stroke="#fff" stroke-width="0.12">&#8722;6</text>
<text x="43.0" y="551.5" font-family="Liberation Sans" font-size="12.5" text-anchor="end" textLength="13.0" lengthAdjust="spacingAndGlyphs" fill="#000" stroke="#fff" stroke-width="0.12">&#8722;3</text>
<text x="43.0" y="572.5" font-family="Liberation Sans" font-size="12.5" text-anchor="end" textLength="6.5" lengthAdjust="spacingAndGlyphs" fill="#000" stroke="#fff" stroke-width="0.12">0</text>
<text x="43.0" y="593.5" font-family="Liberation Sans" font-size="12.5" text-anchor="end" textLength="6.5" lengthAdjust="spacingAndGlyphs" fill="#000" stroke="#fff" stroke-width="0.12">3</text>
<text x="43.0" y="614.5" font-family="Liberation Sans" font-size="12.5" text-anchor="end" textLength="6.5" lengthAdjust="spacingAndGlyphs" fill="#000" stroke="#fff" stroke-width="0.12">6</text>
<text x="112.0" y="625.9" font-family="Liberation Sans" font-size="12.5" text-anchor="end" textLength="6.5" lengthAdjust="spacingAndGlyphs" fill="#000" stroke="#fff" stroke-width="0.12">3</text>
<text x="112.0" y="650.9" font-family="Liberation Sans" font-size="12.5" text-anchor="end" textLength="6.5" lengthAdjust="spacingAndGlyphs" fill="#000" stroke="#fff" stroke-width="0.12">2</text>
<text x="112.0" y="675.9" font-family="Liberation Sans" font-size="12.5" text-anchor="end" textLength="6.5" lengthAdjust="spacingAndGlyphs" fill="#000" stroke="#fff" stroke-width="0.12">1</text>
<text x="112.0" y="704.7" font-family="Liberation Sans" font-size="12.5" text-anchor="end" textLength="13" lengthAdjust="spacingAndGlyphs" fill="#000" stroke="#fff" stroke-width="0.12">28</text>
<text x="112.0" y="725.9" font-family="Liberation Sans" font-size="12.5" text-anchor="end" textLength="13" lengthAdjust="spacingAndGlyphs" fill="#000" stroke="#fff" stroke-width="0.12">24</text>
<text x="112.0" y="746.8" font-family="Liberation Sans" font-size="12.5" text-anchor="end" textLength="13" lengthAdjust="spacingAndGlyphs" fill="#000" stroke="#fff" stroke-width="0.12">20</text>
<text x="112.0" y="768.4" font-family="Liberation Sans" font-size="12.5" text-anchor="end" textLength="13" lengthAdjust="spacingAndGlyphs" fill="#000" stroke="#fff" stroke-width="0.12">16</text>
<text x="112.0" y="801.8" font-family="Liberation Sans" font-size="12.5" text-anchor="end" textLength="13" lengthAdjust="spacingAndGlyphs" fill="#000" stroke="#fff" stroke-width="0.12">90</text>
<text x="112.0" y="815.9" font-family="Liberation Sans" font-size="12.5" text-anchor="end" textLength="13" lengthAdjust="spacingAndGlyphs" fill="#000" stroke="#fff" stroke-width="0.12">80</text>
<text x="112.0" y="829.5" font-family="Liberation Sans" font-size="12.5" text-anchor="end" textLength="13" lengthAdjust="spacingAndGlyphs" fill="#000" stroke="#fff" stroke-width="0.12">70</text>
<text x="112.0" y="843.1" font-family="Liberation Sans" font-size="12.5" text-anchor="end" textLength="13" lengthAdjust="spacingAndGlyphs" fill="#000" stroke="#fff" stroke-width="0.12">60</text>
<text x="112.0" y="856.8" font-family="Liberation Sans" font-size="12.5" text-anchor="end" textLength="13" lengthAdjust="spacingAndGlyphs" fill="#000" stroke="#fff" stroke-width="0.12">50</text>
<text x="124.0" y="956.0" font-family="Liberation Sans" font-size="12.5" text-anchor="end" textLength="24.8" lengthAdjust="spacingAndGlyphs" fill="#000" stroke="#fff" stroke-width="0.12">2.15</text>
<text x="124.0" y="977.9" font-family="Liberation Sans" font-size="12.5" text-anchor="end" textLength="24.8" lengthAdjust="spacingAndGlyphs" fill="#000" stroke="#fff" stroke-width="0.12">1.72</text>
<text x="124.0" y="1000.0" font-family="Liberation Sans" font-size="12.5" text-anchor="end" textLength="24.8" lengthAdjust="spacingAndGlyphs" fill="#000" stroke="#fff" stroke-width="0.12">1.29</text>
<text x="124.0" y="1021.8" font-family="Liberation Sans" font-size="12.5" text-anchor="end" textLength="24.8" lengthAdjust="spacingAndGlyphs" fill="#000" stroke="#fff" stroke-width="0.12">0.86</text>
<text x="124.0" y="1043.6" font-family="Liberation Sans" font-size="12.5" text-anchor="end" textLength="24.8" lengthAdjust="spacingAndGlyphs" fill="#000" stroke="#fff" stroke-width="0.12">0.43</text>
<text x="124.0" y="1064.7" font-family="Liberation Sans" font-size="12.5" text-anchor="end" textLength="6.5" lengthAdjust="spacingAndGlyphs" fill="#000" stroke="#fff" stroke-width="0.12">0</text>
<path d="M115.5 101.8H120 M115.5 163.4H120 M115.5 225.1H120 M115.5 286.7H120 M115.5 348.4H120 M115.5 410.0H120 M115.5 442.9H120 M115.5 461.5H120 M115.5 480.1H120 M115.5 498.7H120 M115.5 517.3H120 M65 442.2H69.5 M65 459.1H69.5 M65 475.9H69.5 M65 492.8H69.5 M65 509.6H69.5 M69.5 440V525.5 M115.5 526.0H120 M115.5 547.0H120 M115.5 568.1H120 M115.5 589.1H120 M46 526.0H50.5 M46 547.0H50.5 M46 568.0H50.5 M46 589.0H50.5 M46 610.0H50.5 M50.5 525.5V610 M115.5 621.4H120 M115.5 646.4H120 M115.5 671.4H120 M115.5 700.2H120 M115.5 721.4H120 M115.5 742.3H120 M115.5 763.9H120 M115.5 797.3H120 M115.5 811.4H120 M115.5 825.0H120 M115.5 838.6H120 M115.5 852.3H120 M127.5 893.4H132.5 M127.5 920.7H132.5 M127.5 951.5H132.5 M127.5 973.4H132.5 M127.5 995.5H132.5 M127.5 1017.3H132.5 M127.5 1039.1H132.5 M127.5 1060.2H132.5" stroke="#000" stroke-width="1.2"/>
<text x="121.6" y="886.0" font-family="Liberation Sans" font-size="14.5" fill="#000" text-anchor="end" >high</text>
<text x="121.6" y="915.0" font-family="Liberation Sans" font-size="14.5" fill="#000" text-anchor="end" >middle</text>
<text x="121.6" y="942.0" font-family="Liberation Sans" font-size="14.5" fill="#000" text-anchor="end" >low</text>
<text transform="translate(51.0,110.5) rotate(-90)" x="0" y="5.9" font-family="Liberation Sans" font-size="17" fill="#000" text-anchor="middle" stroke="#fff" stroke-width="0.4" textLength="87" lengthAdjust="spacingAndGlyphs" >Wind (m/s)</text>
<text transform="translate(51.0,165.5) rotate(-90)" x="0" y="5.9" font-family="Liberation Sans" font-size="17" fill="#f03030" text-anchor="middle" stroke="#fff" stroke-width="0.4" textLength="22" lengthAdjust="spacingAndGlyphs" >(°C)</text>
<g font-family="Liberation Sans" font-size="17">
<text transform="translate(57,264.0) rotate(-90)" x="0" y="0" fill="#f03c3c" textLength="8.3" lengthAdjust="spacingAndGlyphs">T</text>
<text transform="translate(57,255.7) rotate(-90)" x="0" y="0" fill="#f06428" textLength="7.4" lengthAdjust="spacingAndGlyphs">e</text>
<text transform="translate(57,248.2) rotate(-90)" x="0" y="0" fill="#f09628" textLength="11.0" lengthAdjust="spacingAndGlyphs">m</text>
<text transform="translate(57,237.3) rotate(-90)" x="0" y="0" fill="#e8c820" textLength="7.4" lengthAdjust="spacingAndGlyphs">p</text>
<text transform="translate(57,229.8) rotate(-90)" x="0" y="0" fill="#b4d820" textLength="7.4" lengthAdjust="spacingAndGlyphs">e</text>
<text transform="translate(57,222.4) rotate(-90)" x="0" y="0" fill="#50d050" textLength="4.8" lengthAdjust="spacingAndGlyphs">r</text>
<text transform="translate(57,217.6) rotate(-90)" x="0" y="0" fill="#20c8a0" textLength="7.4" lengthAdjust="spacingAndGlyphs">a</text>
<text transform="translate(57,210.1) rotate(-90)" x="0" y="0" fill="#20b4e0" textLength="4.4" lengthAdjust="spacingAndGlyphs">t</text>
<text transform="translate(57,205.7) rotate(-90)" x="0" y="0" fill="#3c78f0" textLength="7.4" lengthAdjust="spacingAndGlyphs">u</text>
<text transform="translate(57,198.3) rotate(-90)" x="0" y="0" fill="#6450f0" textLength="4.8" lengthAdjust="spacingAndGlyphs">r</text>
<text transform="translate(57,193.4) rotate(-90)" x="0" y="0" fill="#a040e0" textLength="7.4" lengthAdjust="spacingAndGlyphs">e</text>
</g>
<text transform="translate(80.0,255.5) rotate(-90)" x="0" y="5.9" font-family="Liberation Sans" font-size="17" fill="#000" text-anchor="middle" stroke="#fff" stroke-width="0.4" textLength="132" lengthAdjust="spacingAndGlyphs" >( m i l l i b a r s )</text>
<rect x="40.2" y="281.7" width="5" height="54.3" fill="#00c000"/><rect x="45.2" y="281.7" width="5" height="54.3" fill="#00f000"/><rect x="50.2" y="281.7" width="4.5" height="54.3" fill="#78d878"/><rect x="54.7" y="281.7" width="4" height="54.3" fill="#a8d4a8"/><rect x="58.7" y="281.7" width="4" height="54.3" fill="#c8d4c8"/>
<text transform="translate(51.0,309.0) rotate(-90)" x="0" y="5.9" font-family="Liberation Sans" font-size="17" fill="#000" text-anchor="middle"  textLength="50" lengthAdjust="spacingAndGlyphs" >RH (%)</text>
<text transform="translate(16.0,483.0) rotate(-90)" x="0" y="5.9" font-family="Liberation Sans" font-size="17" fill="#20c0c0" text-anchor="middle" stroke="#fff" stroke-width="0.4" textLength="96" lengthAdjust="spacingAndGlyphs" >1000-500mb</text>
<text transform="translate(33.0,482.5) rotate(-90)" x="0" y="5.9" font-family="Liberation Sans" font-size="17" fill="#20c0c0" text-anchor="middle" stroke="#fff" stroke-width="0.4" textLength="95" lengthAdjust="spacingAndGlyphs" >Thcknss (dm)</text>
<text transform="translate(80.0,482.5) rotate(-90)" x="0" y="5.9" font-family="Liberation Sans" font-size="17" fill="#1434e6" text-anchor="middle" stroke="#fff" stroke-width="0.4" textLength="67" lengthAdjust="spacingAndGlyphs" >SLP (mb)</text>
<text transform="translate(18.0,568.0) rotate(-90)" x="0" y="5.9" font-family="Liberation Sans" font-size="17" fill="#f03c3c" text-anchor="middle" stroke="#fff" stroke-width="0.4" textLength="82" lengthAdjust="spacingAndGlyphs" >Lifted Index</text>
<text transform="translate(80.0,567.0) rotate(-90)" x="0" y="5.9" font-family="Liberation Sans" font-size="17" fill="#c47cf4" text-anchor="middle" stroke="#fff" stroke-width="0.4" textLength="90" lengthAdjust="spacingAndGlyphs" >CAPE (J/kg)</text>
<text transform="translate(16.0,649.0) rotate(-90)" x="0" y="5.9" font-family="Liberation Sans" font-size="17" fill="#f09628" text-anchor="middle" stroke="#fff" stroke-width="0.4" textLength="74" lengthAdjust="spacingAndGlyphs" >10m Wind</text>
<text transform="translate(36.0,653.0) rotate(-90)" x="0" y="5.9" font-family="Liberation Sans" font-size="17" fill="#f09628" text-anchor="middle" stroke="#fff" stroke-width="0.4" textLength="42" lengthAdjust="spacingAndGlyphs" >Speed</text>
<text transform="translate(56.0,652.0) rotate(-90)" x="0" y="5.9" font-family="Liberation Sans" font-size="17" fill="#8c6c50" text-anchor="middle" stroke="#fff" stroke-width="0.4" textLength="58" lengthAdjust="spacingAndGlyphs" >&amp; Barbs</text>
<text transform="translate(76.0,653.0) rotate(-90)" x="0" y="5.9" font-family="Liberation Sans" font-size="17" fill="#000" text-anchor="middle" stroke="#fff" stroke-width="0.4" textLength="42" lengthAdjust="spacingAndGlyphs" >(m/s)</text>
<text transform="translate(16.0,735.0) rotate(-90)" x="0" y="5.9" font-family="Liberation Sans" font-size="17" fill="#8c5040" text-anchor="middle" stroke="#fff" stroke-width="0.4" textLength="74" lengthAdjust="spacingAndGlyphs" >2m Temp</text>
<text transform="translate(36.0,737.0) rotate(-90)" x="0" y="5.9" font-family="Liberation Sans" font-size="17" fill="#8c5040" text-anchor="middle" stroke="#fff" stroke-width="0.4" textLength="75" lengthAdjust="spacingAndGlyphs" >2m DewPt</text>
<text transform="translate(56.0,737.0) rotate(-90)" x="0" y="5.9" font-family="Liberation Sans" font-size="17" fill="#8c5040" text-anchor="middle" stroke="#fff" stroke-width="0.4" textLength="104" lengthAdjust="spacingAndGlyphs" >(6hr Min/Max)</text>
<text transform="translate(76.0,734.0) rotate(-90)" x="0" y="5.9" font-family="Liberation Sans" font-size="17" fill="#000" text-anchor="middle" stroke="#fff" stroke-width="0.4" textLength="22" lengthAdjust="spacingAndGlyphs" >(°C)</text>
<text transform="translate(36.0,823.0) rotate(-90)" x="0" y="5.9" font-family="Liberation Sans" font-size="17" fill="#10c010" text-anchor="middle" stroke="#fff" stroke-width="0.4" textLength="48" lengthAdjust="spacingAndGlyphs" >2m RH</text>
<text transform="translate(76.0,821.5) rotate(-90)" x="0" y="5.9" font-family="Liberation Sans" font-size="17" fill="#000" text-anchor="middle" stroke="#fff" stroke-width="0.4" textLength="21" lengthAdjust="spacingAndGlyphs" >(%)</text>
<text transform="translate(25.0,908.0) rotate(-90)" x="0" y="5.9" font-family="Liberation Sans" font-size="17" fill="#5aa0d8" text-anchor="middle" stroke="#fff" stroke-width="0.4" textLength="84" lengthAdjust="spacingAndGlyphs" >Cloud Cover</text>
<text transform="translate(46.0,908.0) rotate(-90)" x="0" y="5.9" font-family="Liberation Sans" font-size="17" fill="#000" text-anchor="middle" stroke="#fff" stroke-width="0.4" textLength="20" lengthAdjust="spacingAndGlyphs" >(%)</text>
<text transform="translate(84.0,990.0) rotate(-90)" x="0" y="5.9" font-family="Liberation Sans" font-size="17" fill="#000" text-anchor="middle" stroke="#fff" stroke-width="0.4" textLength="120" lengthAdjust="spacingAndGlyphs" >3hr Precip (mm)</text>
<text x="69.0" y="977.0" font-family="Liberation Sans" font-size="17" fill="#10c010" text-anchor="end" stroke="#fff" stroke-width="0.4" textLength="88" lengthAdjust="spacingAndGlyphs" xml:space="preserve">Total / Rain</text>
<text x="69.0" y="996.6" font-family="Liberation Sans" font-size="17" fill="#f03c3c" text-anchor="end" stroke="#fff" stroke-width="0.4" textLength="71" lengthAdjust="spacingAndGlyphs">Convective</text>
<text x="5.7" y="1095.5" font-family="Liberation Sans" font-size="13.5" fill="#000" text-anchor="start" stroke="#fff" stroke-width="0.35" textLength="113.6" lengthAdjust="spacingAndGlyphs">GrADS: COLA/IGES</text>
</svg>
</body></html>
